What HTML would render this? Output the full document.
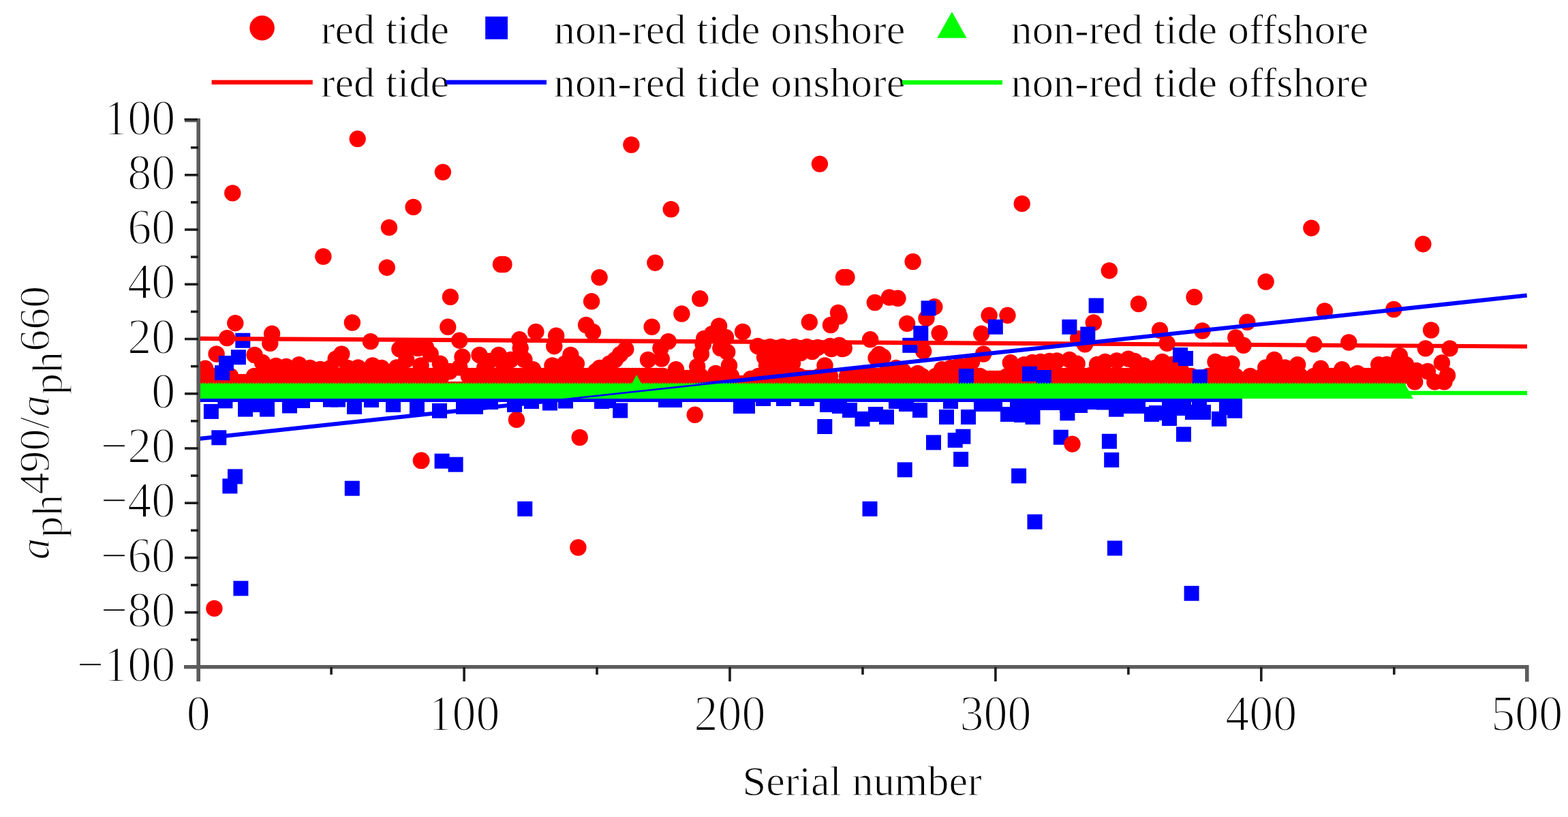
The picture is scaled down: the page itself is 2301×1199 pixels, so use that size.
<!DOCTYPE html><html><head><meta charset="utf-8"><style>html,body{margin:0;padding:0;background:#fff;}svg{display:block}</style></head><body>
<svg width="2301" height="1199" viewBox="0 0 2301 1199">
<rect width="100%" height="100%" fill="#fff"/>
<defs><clipPath id="pc"><rect x="289" y="150" width="1960" height="830"/></clipPath></defs>
<g clip-path="url(#pc)">
<g fill="#ff0000">
<circle cx="298.0" cy="552.0" r="12.2"/>
<circle cx="303.0" cy="552.0" r="12.2"/>
<circle cx="308.0" cy="552.0" r="12.2"/>
<circle cx="313.0" cy="552.0" r="12.2"/>
<circle cx="318.0" cy="552.0" r="12.2"/>
<circle cx="323.0" cy="552.0" r="12.2"/>
<circle cx="328.0" cy="552.0" r="12.2"/>
<circle cx="333.0" cy="552.0" r="12.2"/>
<circle cx="338.0" cy="552.0" r="12.2"/>
<circle cx="343.0" cy="561.0" r="12.2"/>
<circle cx="348.0" cy="561.0" r="12.2"/>
<circle cx="353.0" cy="561.0" r="12.2"/>
<circle cx="358.0" cy="561.0" r="12.2"/>
<circle cx="363.0" cy="561.0" r="12.2"/>
<circle cx="368.0" cy="561.0" r="12.2"/>
<circle cx="373.0" cy="552.0" r="12.2"/>
<circle cx="378.0" cy="552.0" r="12.2"/>
<circle cx="383.0" cy="552.0" r="12.2"/>
<circle cx="388.0" cy="552.0" r="12.2"/>
<circle cx="393.0" cy="552.0" r="12.2"/>
<circle cx="398.0" cy="552.0" r="12.2"/>
<circle cx="403.0" cy="552.0" r="12.2"/>
<circle cx="408.0" cy="552.0" r="12.2"/>
<circle cx="413.0" cy="552.0" r="12.2"/>
<circle cx="418.0" cy="552.0" r="12.2"/>
<circle cx="423.0" cy="552.0" r="12.2"/>
<circle cx="428.0" cy="552.0" r="12.2"/>
<circle cx="433.0" cy="552.0" r="12.2"/>
<circle cx="438.0" cy="552.0" r="12.2"/>
<circle cx="443.0" cy="552.0" r="12.2"/>
<circle cx="448.0" cy="552.0" r="12.2"/>
<circle cx="453.0" cy="552.0" r="12.2"/>
<circle cx="458.0" cy="552.0" r="12.2"/>
<circle cx="463.0" cy="552.0" r="12.2"/>
<circle cx="468.0" cy="552.0" r="12.2"/>
<circle cx="473.0" cy="552.0" r="12.2"/>
<circle cx="478.0" cy="552.0" r="12.2"/>
<circle cx="483.0" cy="552.0" r="12.2"/>
<circle cx="488.0" cy="552.0" r="12.2"/>
<circle cx="493.0" cy="552.0" r="12.2"/>
<circle cx="498.0" cy="552.0" r="12.2"/>
<circle cx="503.0" cy="552.0" r="12.2"/>
<circle cx="508.0" cy="552.0" r="12.2"/>
<circle cx="513.0" cy="552.0" r="12.2"/>
<circle cx="518.0" cy="552.0" r="12.2"/>
<circle cx="523.0" cy="552.0" r="12.2"/>
<circle cx="528.0" cy="552.0" r="12.2"/>
<circle cx="533.0" cy="552.0" r="12.2"/>
<circle cx="538.0" cy="552.0" r="12.2"/>
<circle cx="543.0" cy="552.0" r="12.2"/>
<circle cx="548.0" cy="552.0" r="12.2"/>
<circle cx="553.0" cy="552.0" r="12.2"/>
<circle cx="558.0" cy="552.0" r="12.2"/>
<circle cx="563.0" cy="552.0" r="12.2"/>
<circle cx="568.0" cy="552.0" r="12.2"/>
<circle cx="573.0" cy="552.0" r="12.2"/>
<circle cx="578.0" cy="552.0" r="12.2"/>
<circle cx="583.0" cy="552.0" r="12.2"/>
<circle cx="588.0" cy="552.0" r="12.2"/>
<circle cx="593.0" cy="552.0" r="12.2"/>
<circle cx="598.0" cy="552.0" r="12.2"/>
<circle cx="603.0" cy="552.0" r="12.2"/>
<circle cx="608.0" cy="552.0" r="12.2"/>
<circle cx="613.0" cy="552.0" r="12.2"/>
<circle cx="618.0" cy="552.0" r="12.2"/>
<circle cx="623.0" cy="552.0" r="12.2"/>
<circle cx="628.0" cy="552.0" r="12.2"/>
<circle cx="633.0" cy="552.0" r="12.2"/>
<circle cx="638.0" cy="552.0" r="12.2"/>
<circle cx="643.0" cy="552.0" r="12.2"/>
<circle cx="648.0" cy="552.0" r="12.2"/>
<circle cx="653.0" cy="572.0" r="12.2"/>
<circle cx="658.0" cy="572.0" r="12.2"/>
<circle cx="663.0" cy="572.0" r="12.2"/>
<circle cx="668.0" cy="572.0" r="12.2"/>
<circle cx="673.0" cy="572.0" r="12.2"/>
<circle cx="678.0" cy="572.0" r="12.2"/>
<circle cx="683.0" cy="572.0" r="12.2"/>
<circle cx="688.0" cy="552.0" r="12.2"/>
<circle cx="693.0" cy="552.0" r="12.2"/>
<circle cx="698.0" cy="552.0" r="12.2"/>
<circle cx="703.0" cy="552.0" r="12.2"/>
<circle cx="708.0" cy="552.0" r="12.2"/>
<circle cx="713.0" cy="552.0" r="12.2"/>
<circle cx="718.0" cy="552.0" r="12.2"/>
<circle cx="723.0" cy="552.0" r="12.2"/>
<circle cx="728.0" cy="552.0" r="12.2"/>
<circle cx="733.0" cy="552.0" r="12.2"/>
<circle cx="738.0" cy="552.0" r="12.2"/>
<circle cx="743.0" cy="552.0" r="12.2"/>
<circle cx="748.0" cy="552.0" r="12.2"/>
<circle cx="753.0" cy="552.0" r="12.2"/>
<circle cx="758.0" cy="552.0" r="12.2"/>
<circle cx="763.0" cy="552.0" r="12.2"/>
<circle cx="768.0" cy="552.0" r="12.2"/>
<circle cx="773.0" cy="552.0" r="12.2"/>
<circle cx="778.0" cy="552.0" r="12.2"/>
<circle cx="783.0" cy="552.0" r="12.2"/>
<circle cx="788.0" cy="552.0" r="12.2"/>
<circle cx="793.0" cy="552.0" r="12.2"/>
<circle cx="798.0" cy="552.0" r="12.2"/>
<circle cx="803.0" cy="552.0" r="12.2"/>
<circle cx="808.0" cy="552.0" r="12.2"/>
<circle cx="813.0" cy="552.0" r="12.2"/>
<circle cx="818.0" cy="552.0" r="12.2"/>
<circle cx="823.0" cy="552.0" r="12.2"/>
<circle cx="828.0" cy="552.0" r="12.2"/>
<circle cx="833.0" cy="552.0" r="12.2"/>
<circle cx="838.0" cy="552.0" r="12.2"/>
<circle cx="843.0" cy="552.0" r="12.2"/>
<circle cx="848.0" cy="552.0" r="12.2"/>
<circle cx="853.0" cy="552.0" r="12.2"/>
<circle cx="858.0" cy="552.0" r="12.2"/>
<circle cx="863.0" cy="552.0" r="12.2"/>
<circle cx="868.0" cy="552.0" r="12.2"/>
<circle cx="873.0" cy="552.0" r="12.2"/>
<circle cx="878.0" cy="552.0" r="12.2"/>
<circle cx="883.0" cy="552.0" r="12.2"/>
<circle cx="888.0" cy="552.0" r="12.2"/>
<circle cx="893.0" cy="552.0" r="12.2"/>
<circle cx="898.0" cy="552.0" r="12.2"/>
<circle cx="903.0" cy="552.0" r="12.2"/>
<circle cx="908.0" cy="552.0" r="12.2"/>
<circle cx="913.0" cy="552.0" r="12.2"/>
<circle cx="918.0" cy="552.0" r="12.2"/>
<circle cx="923.0" cy="552.0" r="12.2"/>
<circle cx="928.0" cy="552.0" r="12.2"/>
<circle cx="933.0" cy="552.0" r="12.2"/>
<circle cx="938.0" cy="552.0" r="12.2"/>
<circle cx="943.0" cy="552.0" r="12.2"/>
<circle cx="948.0" cy="552.0" r="12.2"/>
<circle cx="953.0" cy="552.0" r="12.2"/>
<circle cx="958.0" cy="552.0" r="12.2"/>
<circle cx="963.0" cy="552.0" r="12.2"/>
<circle cx="968.0" cy="552.0" r="12.2"/>
<circle cx="973.0" cy="552.0" r="12.2"/>
<circle cx="978.0" cy="555.0" r="12.2"/>
<circle cx="983.0" cy="555.0" r="12.2"/>
<circle cx="988.0" cy="555.0" r="12.2"/>
<circle cx="993.0" cy="555.0" r="12.2"/>
<circle cx="998.0" cy="555.0" r="12.2"/>
<circle cx="1003.0" cy="555.0" r="12.2"/>
<circle cx="1008.0" cy="555.0" r="12.2"/>
<circle cx="1013.0" cy="555.0" r="12.2"/>
<circle cx="1018.0" cy="555.0" r="12.2"/>
<circle cx="1023.0" cy="555.0" r="12.2"/>
<circle cx="1028.0" cy="552.0" r="12.2"/>
<circle cx="1033.0" cy="566.0" r="12.2"/>
<circle cx="1038.0" cy="566.0" r="12.2"/>
<circle cx="1043.0" cy="566.0" r="12.2"/>
<circle cx="1048.0" cy="566.0" r="12.2"/>
<circle cx="1053.0" cy="566.0" r="12.2"/>
<circle cx="1058.0" cy="566.0" r="12.2"/>
<circle cx="1063.0" cy="552.0" r="12.2"/>
<circle cx="1068.0" cy="552.0" r="12.2"/>
<circle cx="1073.0" cy="552.0" r="12.2"/>
<circle cx="1078.0" cy="563.0" r="12.2"/>
<circle cx="1083.0" cy="563.0" r="12.2"/>
<circle cx="1088.0" cy="563.0" r="12.2"/>
<circle cx="1093.0" cy="563.0" r="12.2"/>
<circle cx="1098.0" cy="563.0" r="12.2"/>
<circle cx="1103.0" cy="563.0" r="12.2"/>
<circle cx="1108.0" cy="563.0" r="12.2"/>
<circle cx="1113.0" cy="552.0" r="12.2"/>
<circle cx="1118.0" cy="552.0" r="12.2"/>
<circle cx="1123.0" cy="552.0" r="12.2"/>
<circle cx="1128.0" cy="552.0" r="12.2"/>
<circle cx="1133.0" cy="552.0" r="12.2"/>
<circle cx="1138.0" cy="552.0" r="12.2"/>
<circle cx="1143.0" cy="552.0" r="12.2"/>
<circle cx="1148.0" cy="552.0" r="12.2"/>
<circle cx="1153.0" cy="552.0" r="12.2"/>
<circle cx="1158.0" cy="552.0" r="12.2"/>
<circle cx="1163.0" cy="552.0" r="12.2"/>
<circle cx="1168.0" cy="552.0" r="12.2"/>
<circle cx="1173.0" cy="552.0" r="12.2"/>
<circle cx="1178.0" cy="555.0" r="12.2"/>
<circle cx="1183.0" cy="555.0" r="12.2"/>
<circle cx="1188.0" cy="555.0" r="12.2"/>
<circle cx="1193.0" cy="555.0" r="12.2"/>
<circle cx="1198.0" cy="555.0" r="12.2"/>
<circle cx="1203.0" cy="552.0" r="12.2"/>
<circle cx="1208.0" cy="552.0" r="12.2"/>
<circle cx="1213.0" cy="552.0" r="12.2"/>
<circle cx="1218.0" cy="552.0" r="12.2"/>
<circle cx="1223.0" cy="568.0" r="12.2"/>
<circle cx="1228.0" cy="568.0" r="12.2"/>
<circle cx="1233.0" cy="568.0" r="12.2"/>
<circle cx="1238.0" cy="568.0" r="12.2"/>
<circle cx="1243.0" cy="552.0" r="12.2"/>
<circle cx="1248.0" cy="552.0" r="12.2"/>
<circle cx="1253.0" cy="552.0" r="12.2"/>
<circle cx="1258.0" cy="552.0" r="12.2"/>
<circle cx="1263.0" cy="552.0" r="12.2"/>
<circle cx="1268.0" cy="552.0" r="12.2"/>
<circle cx="1273.0" cy="552.0" r="12.2"/>
<circle cx="1278.0" cy="552.0" r="12.2"/>
<circle cx="1283.0" cy="552.0" r="12.2"/>
<circle cx="1288.0" cy="552.0" r="12.2"/>
<circle cx="1293.0" cy="552.0" r="12.2"/>
<circle cx="1298.0" cy="552.0" r="12.2"/>
<circle cx="1303.0" cy="552.0" r="12.2"/>
<circle cx="1308.0" cy="552.0" r="12.2"/>
<circle cx="1313.0" cy="552.0" r="12.2"/>
<circle cx="1318.0" cy="552.0" r="12.2"/>
<circle cx="1323.0" cy="552.0" r="12.2"/>
<circle cx="1328.0" cy="552.0" r="12.2"/>
<circle cx="1333.0" cy="552.0" r="12.2"/>
<circle cx="1338.0" cy="552.0" r="12.2"/>
<circle cx="1343.0" cy="552.0" r="12.2"/>
<circle cx="1348.0" cy="552.0" r="12.2"/>
<circle cx="1353.0" cy="552.0" r="12.2"/>
<circle cx="1358.0" cy="561.0" r="12.2"/>
<circle cx="1363.0" cy="561.0" r="12.2"/>
<circle cx="1368.0" cy="561.0" r="12.2"/>
<circle cx="1373.0" cy="552.0" r="12.2"/>
<circle cx="1378.0" cy="552.0" r="12.2"/>
<circle cx="1383.0" cy="552.0" r="12.2"/>
<circle cx="1388.0" cy="552.0" r="12.2"/>
<circle cx="1393.0" cy="552.0" r="12.2"/>
<circle cx="1398.0" cy="552.0" r="12.2"/>
<circle cx="1403.0" cy="552.0" r="12.2"/>
<circle cx="1408.0" cy="552.0" r="12.2"/>
<circle cx="1413.0" cy="552.0" r="12.2"/>
<circle cx="1418.0" cy="552.0" r="12.2"/>
<circle cx="1423.0" cy="552.0" r="12.2"/>
<circle cx="1428.0" cy="552.0" r="12.2"/>
<circle cx="1433.0" cy="552.0" r="12.2"/>
<circle cx="1438.0" cy="552.0" r="12.2"/>
<circle cx="1443.0" cy="556.0" r="12.2"/>
<circle cx="1448.0" cy="556.0" r="12.2"/>
<circle cx="1453.0" cy="556.0" r="12.2"/>
<circle cx="1458.0" cy="556.0" r="12.2"/>
<circle cx="1463.0" cy="556.0" r="12.2"/>
<circle cx="1468.0" cy="556.0" r="12.2"/>
<circle cx="1473.0" cy="556.0" r="12.2"/>
<circle cx="1478.0" cy="552.0" r="12.2"/>
<circle cx="1483.0" cy="552.0" r="12.2"/>
<circle cx="1488.0" cy="552.0" r="12.2"/>
<circle cx="1493.0" cy="552.0" r="12.2"/>
<circle cx="1498.0" cy="552.0" r="12.2"/>
<circle cx="1503.0" cy="552.0" r="12.2"/>
<circle cx="1508.0" cy="552.0" r="12.2"/>
<circle cx="1513.0" cy="552.0" r="12.2"/>
<circle cx="1518.0" cy="552.0" r="12.2"/>
<circle cx="1523.0" cy="552.0" r="12.2"/>
<circle cx="1528.0" cy="552.0" r="12.2"/>
<circle cx="1533.0" cy="552.0" r="12.2"/>
<circle cx="1538.0" cy="552.0" r="12.2"/>
<circle cx="1543.0" cy="552.0" r="12.2"/>
<circle cx="1548.0" cy="552.0" r="12.2"/>
<circle cx="1553.0" cy="552.0" r="12.2"/>
<circle cx="1558.0" cy="552.0" r="12.2"/>
<circle cx="1563.0" cy="552.0" r="12.2"/>
<circle cx="1568.0" cy="552.0" r="12.2"/>
<circle cx="1573.0" cy="552.0" r="12.2"/>
<circle cx="1578.0" cy="552.0" r="12.2"/>
<circle cx="1583.0" cy="552.0" r="12.2"/>
<circle cx="1588.0" cy="552.0" r="12.2"/>
<circle cx="1593.0" cy="552.0" r="12.2"/>
<circle cx="1598.0" cy="552.0" r="12.2"/>
<circle cx="1603.0" cy="552.0" r="12.2"/>
<circle cx="1608.0" cy="552.0" r="12.2"/>
<circle cx="1613.0" cy="552.0" r="12.2"/>
<circle cx="1618.0" cy="552.0" r="12.2"/>
<circle cx="1623.0" cy="552.0" r="12.2"/>
<circle cx="1628.0" cy="552.0" r="12.2"/>
<circle cx="1633.0" cy="552.0" r="12.2"/>
<circle cx="1638.0" cy="552.0" r="12.2"/>
<circle cx="1643.0" cy="552.0" r="12.2"/>
<circle cx="1648.0" cy="552.0" r="12.2"/>
<circle cx="1653.0" cy="552.0" r="12.2"/>
<circle cx="1658.0" cy="552.0" r="12.2"/>
<circle cx="1663.0" cy="552.0" r="12.2"/>
<circle cx="1668.0" cy="552.0" r="12.2"/>
<circle cx="1673.0" cy="552.0" r="12.2"/>
<circle cx="1678.0" cy="552.0" r="12.2"/>
<circle cx="1683.0" cy="552.0" r="12.2"/>
<circle cx="1688.0" cy="552.0" r="12.2"/>
<circle cx="1693.0" cy="552.0" r="12.2"/>
<circle cx="1698.0" cy="552.0" r="12.2"/>
<circle cx="1703.0" cy="552.0" r="12.2"/>
<circle cx="1708.0" cy="552.0" r="12.2"/>
<circle cx="1713.0" cy="552.0" r="12.2"/>
<circle cx="1718.0" cy="552.0" r="12.2"/>
<circle cx="1723.0" cy="552.0" r="12.2"/>
<circle cx="1728.0" cy="552.0" r="12.2"/>
<circle cx="1733.0" cy="552.0" r="12.2"/>
<circle cx="1738.0" cy="552.0" r="12.2"/>
<circle cx="1743.0" cy="552.0" r="12.2"/>
<circle cx="1748.0" cy="552.0" r="12.2"/>
<circle cx="1753.0" cy="565.0" r="12.2"/>
<circle cx="1758.0" cy="565.0" r="12.2"/>
<circle cx="1763.0" cy="565.0" r="12.2"/>
<circle cx="1768.0" cy="565.0" r="12.2"/>
<circle cx="1773.0" cy="552.0" r="12.2"/>
<circle cx="1778.0" cy="552.0" r="12.2"/>
<circle cx="1783.0" cy="552.0" r="12.2"/>
<circle cx="1788.0" cy="552.0" r="12.2"/>
<circle cx="1793.0" cy="552.0" r="12.2"/>
<circle cx="1798.0" cy="552.0" r="12.2"/>
<circle cx="1803.0" cy="552.0" r="12.2"/>
<circle cx="1808.0" cy="552.0" r="12.2"/>
<circle cx="1813.0" cy="552.0" r="12.2"/>
<circle cx="1818.0" cy="558.0" r="12.2"/>
<circle cx="1823.0" cy="558.0" r="12.2"/>
<circle cx="1828.0" cy="558.0" r="12.2"/>
<circle cx="1833.0" cy="558.0" r="12.2"/>
<circle cx="1838.0" cy="558.0" r="12.2"/>
<circle cx="1843.0" cy="558.0" r="12.2"/>
<circle cx="1848.0" cy="558.0" r="12.2"/>
<circle cx="1853.0" cy="552.0" r="12.2"/>
<circle cx="1858.0" cy="552.0" r="12.2"/>
<circle cx="1863.0" cy="552.0" r="12.2"/>
<circle cx="1868.0" cy="552.0" r="12.2"/>
<circle cx="1873.0" cy="552.0" r="12.2"/>
<circle cx="1878.0" cy="552.0" r="12.2"/>
<circle cx="1883.0" cy="552.0" r="12.2"/>
<circle cx="1888.0" cy="552.0" r="12.2"/>
<circle cx="1893.0" cy="552.0" r="12.2"/>
<circle cx="1898.0" cy="552.0" r="12.2"/>
<circle cx="1903.0" cy="552.0" r="12.2"/>
<circle cx="1908.0" cy="552.0" r="12.2"/>
<circle cx="1913.0" cy="561.0" r="12.2"/>
<circle cx="1918.0" cy="561.0" r="12.2"/>
<circle cx="1923.0" cy="561.0" r="12.2"/>
<circle cx="1928.0" cy="552.0" r="12.2"/>
<circle cx="1933.0" cy="552.0" r="12.2"/>
<circle cx="1938.0" cy="552.0" r="12.2"/>
<circle cx="1943.0" cy="552.0" r="12.2"/>
<circle cx="1948.0" cy="552.0" r="12.2"/>
<circle cx="1953.0" cy="552.0" r="12.2"/>
<circle cx="1958.0" cy="552.0" r="12.2"/>
<circle cx="1963.0" cy="552.0" r="12.2"/>
<circle cx="1968.0" cy="552.0" r="12.2"/>
<circle cx="1973.0" cy="552.0" r="12.2"/>
<circle cx="1978.0" cy="552.0" r="12.2"/>
<circle cx="1983.0" cy="552.0" r="12.2"/>
<circle cx="1988.0" cy="552.0" r="12.2"/>
<circle cx="1993.0" cy="552.0" r="12.2"/>
<circle cx="1998.0" cy="552.0" r="12.2"/>
<circle cx="2003.0" cy="552.0" r="12.2"/>
<circle cx="2008.0" cy="552.0" r="12.2"/>
<circle cx="2013.0" cy="552.0" r="12.2"/>
<circle cx="2018.0" cy="552.0" r="12.2"/>
<circle cx="2023.0" cy="552.0" r="12.2"/>
<circle cx="2028.0" cy="552.0" r="12.2"/>
<circle cx="2033.0" cy="552.0" r="12.2"/>
<circle cx="2038.0" cy="552.0" r="12.2"/>
<circle cx="2043.0" cy="552.0" r="12.2"/>
<circle cx="2048.0" cy="552.0" r="12.2"/>
<circle cx="2053.0" cy="552.0" r="12.2"/>
<circle cx="2058.0" cy="552.0" r="12.2"/>
<circle cx="524.7" cy="203.8" r="12.2"/>
<circle cx="649.9" cy="252.6" r="12.2"/>
<circle cx="341.3" cy="283.4" r="12.2"/>
<circle cx="606.6" cy="303.9" r="12.2"/>
<circle cx="571.0" cy="333.9" r="12.2"/>
<circle cx="474.4" cy="376.5" r="12.2"/>
<circle cx="567.8" cy="392.7" r="12.2"/>
<circle cx="735.0" cy="388.0" r="12.2"/>
<circle cx="739.5" cy="388.0" r="12.2"/>
<circle cx="660.9" cy="435.8" r="12.2"/>
<circle cx="926.4" cy="212.5" r="12.2"/>
<circle cx="1202.9" cy="240.6" r="12.2"/>
<circle cx="984.7" cy="307.1" r="12.2"/>
<circle cx="961.4" cy="385.7" r="12.2"/>
<circle cx="879.6" cy="407.2" r="12.2"/>
<circle cx="1238.0" cy="407.0" r="12.2"/>
<circle cx="1242.5" cy="407.0" r="12.2"/>
<circle cx="868.1" cy="442.3" r="12.2"/>
<circle cx="1027.2" cy="438.3" r="12.2"/>
<circle cx="1000.4" cy="460.5" r="12.2"/>
<circle cx="1230.0" cy="459.0" r="12.2"/>
<circle cx="1499.7" cy="298.9" r="12.2"/>
<circle cx="1339.6" cy="384.0" r="12.2"/>
<circle cx="1627.8" cy="397.2" r="12.2"/>
<circle cx="1752.5" cy="436.0" r="12.2"/>
<circle cx="1670.9" cy="446.0" r="12.2"/>
<circle cx="1305.0" cy="436.5" r="12.2"/>
<circle cx="1317.5" cy="437.8" r="12.2"/>
<circle cx="1283.8" cy="444.0" r="12.2"/>
<circle cx="1371.3" cy="450.3" r="12.2"/>
<circle cx="1924.4" cy="334.7" r="12.2"/>
<circle cx="2088.3" cy="358.2" r="12.2"/>
<circle cx="1857.6" cy="413.5" r="12.2"/>
<circle cx="1943.9" cy="456.5" r="12.2"/>
<circle cx="2045.3" cy="454.0" r="12.2"/>
<circle cx="345.3" cy="474.2" r="12.2"/>
<circle cx="333.2" cy="496.1" r="12.2"/>
<circle cx="399.1" cy="489.8" r="12.2"/>
<circle cx="396.3" cy="503.9" r="12.2"/>
<circle cx="317.6" cy="519.5" r="12.2"/>
<circle cx="301.3" cy="540.8" r="12.2"/>
<circle cx="292.8" cy="550.7" r="12.2"/>
<circle cx="373.6" cy="521.0" r="12.2"/>
<circle cx="385.0" cy="532.0" r="12.2"/>
<circle cx="405.0" cy="537.0" r="12.2"/>
<circle cx="420.0" cy="538.0" r="12.2"/>
<circle cx="438.8" cy="535.1" r="12.2"/>
<circle cx="455.0" cy="540.0" r="12.2"/>
<circle cx="470.0" cy="542.0" r="12.2"/>
<circle cx="485.0" cy="540.0" r="12.2"/>
<circle cx="492.7" cy="526.6" r="12.2"/>
<circle cx="516.9" cy="473.5" r="12.2"/>
<circle cx="657.3" cy="479.8" r="12.2"/>
<circle cx="543.9" cy="501.1" r="12.2"/>
<circle cx="674.3" cy="499.7" r="12.2"/>
<circle cx="501.3" cy="519.5" r="12.2"/>
<circle cx="586.4" cy="512.4" r="12.2"/>
<circle cx="613.3" cy="511.0" r="12.2"/>
<circle cx="596.3" cy="528.0" r="12.2"/>
<circle cx="631.7" cy="519.5" r="12.2"/>
<circle cx="645.9" cy="533.7" r="12.2"/>
<circle cx="617.6" cy="536.5" r="12.2"/>
<circle cx="582.1" cy="539.4" r="12.2"/>
<circle cx="546.7" cy="536.5" r="12.2"/>
<circle cx="525.4" cy="539.4" r="12.2"/>
<circle cx="678.5" cy="523.8" r="12.2"/>
<circle cx="674.3" cy="539.4" r="12.2"/>
<circle cx="660.0" cy="545.0" r="12.2"/>
<circle cx="600.0" cy="510.0" r="12.2"/>
<circle cx="625.0" cy="510.0" r="12.2"/>
<circle cx="560.0" cy="540.0" r="12.2"/>
<circle cx="510.0" cy="540.0" r="12.2"/>
<circle cx="860.1" cy="477.0" r="12.2"/>
<circle cx="870.0" cy="487.0" r="12.2"/>
<circle cx="786.4" cy="486.9" r="12.2"/>
<circle cx="816.2" cy="492.6" r="12.2"/>
<circle cx="813.3" cy="508.2" r="12.2"/>
<circle cx="762.3" cy="498.3" r="12.2"/>
<circle cx="763.7" cy="511.0" r="12.2"/>
<circle cx="703.5" cy="521.0" r="12.2"/>
<circle cx="731.8" cy="521.0" r="12.2"/>
<circle cx="837.4" cy="521.0" r="12.2"/>
<circle cx="749.5" cy="528.0" r="12.2"/>
<circle cx="769.4" cy="528.0" r="12.2"/>
<circle cx="810.5" cy="536.5" r="12.2"/>
<circle cx="828.9" cy="533.7" r="12.2"/>
<circle cx="845.9" cy="533.7" r="12.2"/>
<circle cx="874.3" cy="545.0" r="12.2"/>
<circle cx="711.3" cy="539.4" r="12.2"/>
<circle cx="739.6" cy="539.4" r="12.2"/>
<circle cx="782.1" cy="542.2" r="12.2"/>
<circle cx="758.0" cy="615.9" r="12.2"/>
<circle cx="718.0" cy="530.0" r="12.2"/>
<circle cx="956.6" cy="479.8" r="12.2"/>
<circle cx="1055.1" cy="478.4" r="12.2"/>
<circle cx="980.7" cy="501.1" r="12.2"/>
<circle cx="1033.2" cy="496.9" r="12.2"/>
<circle cx="1031.7" cy="505.4" r="12.2"/>
<circle cx="1057.3" cy="511.0" r="12.2"/>
<circle cx="1067.2" cy="516.7" r="12.2"/>
<circle cx="1028.9" cy="519.5" r="12.2"/>
<circle cx="918.3" cy="512.4" r="12.2"/>
<circle cx="910.0" cy="520.0" r="12.2"/>
<circle cx="902.8" cy="528.0" r="12.2"/>
<circle cx="894.3" cy="533.7" r="12.2"/>
<circle cx="969.4" cy="511.0" r="12.2"/>
<circle cx="951.0" cy="528.0" r="12.2"/>
<circle cx="970.8" cy="526.6" r="12.2"/>
<circle cx="1070.0" cy="536.5" r="12.2"/>
<circle cx="1023.2" cy="538.0" r="12.2"/>
<circle cx="992.0" cy="542.2" r="12.2"/>
<circle cx="1050.2" cy="547.9" r="12.2"/>
<circle cx="1019.7" cy="608.8" r="12.2"/>
<circle cx="880.0" cy="540.0" r="12.2"/>
<circle cx="1045.0" cy="490.0" r="12.2"/>
<circle cx="1065.0" cy="495.0" r="12.2"/>
<circle cx="1187.8" cy="472.8" r="12.2"/>
<circle cx="1219.0" cy="477.0" r="12.2"/>
<circle cx="1231.7" cy="464.3" r="12.2"/>
<circle cx="1277.1" cy="498.3" r="12.2"/>
<circle cx="1090.0" cy="487.0" r="12.2"/>
<circle cx="1112.0" cy="508.0" r="12.2"/>
<circle cx="1130.0" cy="509.0" r="12.2"/>
<circle cx="1148.0" cy="509.0" r="12.2"/>
<circle cx="1166.0" cy="509.0" r="12.2"/>
<circle cx="1184.0" cy="509.0" r="12.2"/>
<circle cx="1200.0" cy="510.0" r="12.2"/>
<circle cx="1218.0" cy="508.0" r="12.2"/>
<circle cx="1231.7" cy="506.8" r="12.2"/>
<circle cx="1238.8" cy="511.0" r="12.2"/>
<circle cx="1122.0" cy="524.0" r="12.2"/>
<circle cx="1140.0" cy="522.0" r="12.2"/>
<circle cx="1158.0" cy="522.0" r="12.2"/>
<circle cx="1175.0" cy="518.0" r="12.2"/>
<circle cx="1192.0" cy="516.0" r="12.2"/>
<circle cx="1220.0" cy="512.0" r="12.2"/>
<circle cx="1236.0" cy="512.0" r="12.2"/>
<circle cx="1125.0" cy="536.0" r="12.2"/>
<circle cx="1145.0" cy="538.0" r="12.2"/>
<circle cx="1163.0" cy="533.0" r="12.2"/>
<circle cx="1210.5" cy="536.5" r="12.2"/>
<circle cx="1101.7" cy="556.0" r="12.2"/>
<circle cx="1285.6" cy="525.2" r="12.2"/>
<circle cx="1267.2" cy="547.9" r="12.2"/>
<circle cx="1246.0" cy="550.7" r="12.2"/>
<circle cx="1290.0" cy="520.0" r="12.2"/>
<circle cx="1331.1" cy="474.9" r="12.2"/>
<circle cx="1359.5" cy="467.1" r="12.2"/>
<circle cx="1378.6" cy="489.1" r="12.2"/>
<circle cx="1440.2" cy="489.8" r="12.2"/>
<circle cx="1451.6" cy="462.8" r="12.2"/>
<circle cx="1478.5" cy="462.8" r="12.2"/>
<circle cx="1355.2" cy="515.3" r="12.2"/>
<circle cx="1295.7" cy="523.8" r="12.2"/>
<circle cx="1443.1" cy="519.5" r="12.2"/>
<circle cx="1482.8" cy="532.3" r="12.2"/>
<circle cx="1301.3" cy="545.0" r="12.2"/>
<circle cx="1325.4" cy="545.0" r="12.2"/>
<circle cx="1346.7" cy="548.0" r="12.2"/>
<circle cx="1382.1" cy="542.2" r="12.2"/>
<circle cx="1407.6" cy="536.5" r="12.2"/>
<circle cx="1426.1" cy="530.9" r="12.2"/>
<circle cx="1445.9" cy="556.0" r="12.2"/>
<circle cx="1467.2" cy="556.0" r="12.2"/>
<circle cx="1315.0" cy="540.0" r="12.2"/>
<circle cx="1395.0" cy="540.0" r="12.2"/>
<circle cx="1604.8" cy="473.5" r="12.2"/>
<circle cx="1592.0" cy="505.4" r="12.2"/>
<circle cx="1582.1" cy="496.9" r="12.2"/>
<circle cx="1502.8" cy="535.1" r="12.2"/>
<circle cx="1526.9" cy="530.9" r="12.2"/>
<circle cx="1551.0" cy="529.5" r="12.2"/>
<circle cx="1569.4" cy="528.0" r="12.2"/>
<circle cx="1580.7" cy="533.7" r="12.2"/>
<circle cx="1621.8" cy="530.9" r="12.2"/>
<circle cx="1638.8" cy="529.5" r="12.2"/>
<circle cx="1655.8" cy="526.6" r="12.2"/>
<circle cx="1678.5" cy="536.5" r="12.2"/>
<circle cx="1600.6" cy="550.7" r="12.2"/>
<circle cx="1515.0" cy="532.0" r="12.2"/>
<circle cx="1540.0" cy="530.0" r="12.2"/>
<circle cx="1610.0" cy="535.0" r="12.2"/>
<circle cx="1665.0" cy="530.0" r="12.2"/>
<circle cx="1702.0" cy="484.8" r="12.2"/>
<circle cx="1712.7" cy="503.9" r="12.2"/>
<circle cx="1764.4" cy="485.5" r="12.2"/>
<circle cx="1830.3" cy="472.8" r="12.2"/>
<circle cx="1813.3" cy="495.4" r="12.2"/>
<circle cx="1824.7" cy="506.8" r="12.2"/>
<circle cx="1705.6" cy="530.9" r="12.2"/>
<circle cx="1695.0" cy="540.0" r="12.2"/>
<circle cx="1732.5" cy="542.2" r="12.2"/>
<circle cx="1720.0" cy="535.0" r="12.2"/>
<circle cx="1783.5" cy="530.9" r="12.2"/>
<circle cx="1807.6" cy="533.7" r="12.2"/>
<circle cx="1795.0" cy="535.0" r="12.2"/>
<circle cx="1834.6" cy="552.0" r="12.2"/>
<circle cx="1870.0" cy="528.0" r="12.2"/>
<circle cx="1857.3" cy="539.4" r="12.2"/>
<circle cx="1885.6" cy="539.4" r="12.2"/>
<circle cx="1928.3" cy="505.4" r="12.2"/>
<circle cx="1979.3" cy="502.5" r="12.2"/>
<circle cx="1904.2" cy="535.1" r="12.2"/>
<circle cx="1938.2" cy="540.8" r="12.2"/>
<circle cx="1969.4" cy="542.2" r="12.2"/>
<circle cx="1992.0" cy="548.0" r="12.2"/>
<circle cx="2023.2" cy="535.1" r="12.2"/>
<circle cx="2053.0" cy="525.2" r="12.2"/>
<circle cx="2053.0" cy="542.2" r="12.2"/>
<circle cx="2035.0" cy="535.0" r="12.2"/>
<circle cx="2100.1" cy="484.5" r="12.2"/>
<circle cx="2091.9" cy="511.4" r="12.2"/>
<circle cx="2127.5" cy="511.4" r="12.2"/>
<circle cx="2054.0" cy="521.9" r="12.2"/>
<circle cx="2115.9" cy="532.4" r="12.2"/>
<circle cx="2078.5" cy="544.0" r="12.2"/>
<circle cx="2124.0" cy="551.0" r="12.2"/>
<circle cx="2076.2" cy="560.4" r="12.2"/>
<circle cx="2105.4" cy="560.4" r="12.2"/>
<circle cx="2119.4" cy="560.4" r="12.2"/>
<circle cx="2047.0" cy="541.7" r="12.2"/>
<circle cx="2095.0" cy="545.0" r="12.2"/>
<circle cx="2063.0" cy="535.0" r="12.2"/>
<circle cx="314.4" cy="892.9" r="12.2"/>
<circle cx="617.9" cy="676.0" r="12.2"/>
<circle cx="848.4" cy="803.5" r="12.2"/>
<circle cx="850.7" cy="642.0" r="12.2"/>
<circle cx="618.4" cy="675.8" r="12.2"/>
</g>
<g fill="#0000ff">
<rect x="289.0" y="568.0" width="22.0" height="22.0"/>
<rect x="295.0" y="568.0" width="22.0" height="22.0"/>
<rect x="301.0" y="568.0" width="22.0" height="22.0"/>
<rect x="307.0" y="568.0" width="22.0" height="22.0"/>
<rect x="313.0" y="568.0" width="22.0" height="22.0"/>
<rect x="319.0" y="568.0" width="22.0" height="22.0"/>
<rect x="325.0" y="568.0" width="22.0" height="22.0"/>
<rect x="331.0" y="568.0" width="22.0" height="22.0"/>
<rect x="337.0" y="568.0" width="22.0" height="22.0"/>
<rect x="343.0" y="568.0" width="22.0" height="22.0"/>
<rect x="349.0" y="568.0" width="22.0" height="22.0"/>
<rect x="355.0" y="568.0" width="22.0" height="22.0"/>
<rect x="361.0" y="568.0" width="22.0" height="22.0"/>
<rect x="367.0" y="568.0" width="22.0" height="22.0"/>
<rect x="373.0" y="568.0" width="22.0" height="22.0"/>
<rect x="379.0" y="568.0" width="22.0" height="22.0"/>
<rect x="385.0" y="568.0" width="22.0" height="22.0"/>
<rect x="391.0" y="568.0" width="22.0" height="22.0"/>
<rect x="397.0" y="568.0" width="22.0" height="22.0"/>
<rect x="403.0" y="568.0" width="22.0" height="22.0"/>
<rect x="409.0" y="568.0" width="22.0" height="22.0"/>
<rect x="415.0" y="568.0" width="22.0" height="22.0"/>
<rect x="421.0" y="568.0" width="22.0" height="22.0"/>
<rect x="427.0" y="568.0" width="22.0" height="22.0"/>
<rect x="433.0" y="568.0" width="22.0" height="22.0"/>
<rect x="439.0" y="568.0" width="22.0" height="22.0"/>
<rect x="445.0" y="568.0" width="22.0" height="22.0"/>
<rect x="451.0" y="568.0" width="22.0" height="22.0"/>
<rect x="457.0" y="568.0" width="22.0" height="22.0"/>
<rect x="463.0" y="568.0" width="22.0" height="22.0"/>
<rect x="469.0" y="568.0" width="22.0" height="22.0"/>
<rect x="475.0" y="568.0" width="22.0" height="22.0"/>
<rect x="481.0" y="568.0" width="22.0" height="22.0"/>
<rect x="487.0" y="568.0" width="22.0" height="22.0"/>
<rect x="493.0" y="568.0" width="22.0" height="22.0"/>
<rect x="499.0" y="568.0" width="22.0" height="22.0"/>
<rect x="505.0" y="568.0" width="22.0" height="22.0"/>
<rect x="511.0" y="568.0" width="22.0" height="22.0"/>
<rect x="517.0" y="568.0" width="22.0" height="22.0"/>
<rect x="523.0" y="568.0" width="22.0" height="22.0"/>
<rect x="529.0" y="568.0" width="22.0" height="22.0"/>
<rect x="535.0" y="568.0" width="22.0" height="22.0"/>
<rect x="541.0" y="568.0" width="22.0" height="22.0"/>
<rect x="547.0" y="568.0" width="22.0" height="22.0"/>
<rect x="553.0" y="568.0" width="22.0" height="22.0"/>
<rect x="559.0" y="568.0" width="22.0" height="22.0"/>
<rect x="565.0" y="568.0" width="22.0" height="22.0"/>
<rect x="571.0" y="568.0" width="22.0" height="22.0"/>
<rect x="577.0" y="568.0" width="22.0" height="22.0"/>
<rect x="583.0" y="568.0" width="22.0" height="22.0"/>
<rect x="589.0" y="568.0" width="22.0" height="22.0"/>
<rect x="595.0" y="568.0" width="22.0" height="22.0"/>
<rect x="601.0" y="568.0" width="22.0" height="22.0"/>
<rect x="607.0" y="568.0" width="22.0" height="22.0"/>
<rect x="613.0" y="568.0" width="22.0" height="22.0"/>
<rect x="619.0" y="568.0" width="22.0" height="22.0"/>
<rect x="625.0" y="568.0" width="22.0" height="22.0"/>
<rect x="631.0" y="568.0" width="22.0" height="22.0"/>
<rect x="637.0" y="568.0" width="22.0" height="22.0"/>
<rect x="643.0" y="568.0" width="22.0" height="22.0"/>
<rect x="649.0" y="568.0" width="22.0" height="22.0"/>
<rect x="655.0" y="568.0" width="22.0" height="22.0"/>
<rect x="661.0" y="568.0" width="22.0" height="22.0"/>
<rect x="667.0" y="568.0" width="22.0" height="22.0"/>
<rect x="673.0" y="568.0" width="22.0" height="22.0"/>
<rect x="679.0" y="568.0" width="22.0" height="22.0"/>
<rect x="685.0" y="568.0" width="22.0" height="22.0"/>
<rect x="691.0" y="568.0" width="22.0" height="22.0"/>
<rect x="697.0" y="568.0" width="22.0" height="22.0"/>
<rect x="703.0" y="568.0" width="22.0" height="22.0"/>
<rect x="709.0" y="568.0" width="22.0" height="22.0"/>
<rect x="715.0" y="568.0" width="22.0" height="22.0"/>
<rect x="721.0" y="568.0" width="22.0" height="22.0"/>
<rect x="727.0" y="568.0" width="22.0" height="22.0"/>
<rect x="733.0" y="568.0" width="22.0" height="22.0"/>
<rect x="739.0" y="568.0" width="22.0" height="22.0"/>
<rect x="745.0" y="568.0" width="22.0" height="22.0"/>
<rect x="751.0" y="568.0" width="22.0" height="22.0"/>
<rect x="757.0" y="568.0" width="22.0" height="22.0"/>
<rect x="763.0" y="568.0" width="22.0" height="22.0"/>
<rect x="769.0" y="568.0" width="22.0" height="22.0"/>
<rect x="775.0" y="568.0" width="22.0" height="22.0"/>
<rect x="781.0" y="568.0" width="22.0" height="22.0"/>
<rect x="787.0" y="568.0" width="22.0" height="22.0"/>
<rect x="793.0" y="568.0" width="22.0" height="22.0"/>
<rect x="799.0" y="568.0" width="22.0" height="22.0"/>
<rect x="805.0" y="568.0" width="22.0" height="22.0"/>
<rect x="811.0" y="568.0" width="22.0" height="22.0"/>
<rect x="817.0" y="568.0" width="22.0" height="22.0"/>
<rect x="823.0" y="568.0" width="22.0" height="22.0"/>
<rect x="829.0" y="568.0" width="22.0" height="22.0"/>
<rect x="835.0" y="568.0" width="22.0" height="22.0"/>
<rect x="841.0" y="568.0" width="22.0" height="22.0"/>
<rect x="847.0" y="568.0" width="22.0" height="22.0"/>
<rect x="853.0" y="568.0" width="22.0" height="22.0"/>
<rect x="859.0" y="568.0" width="22.0" height="22.0"/>
<rect x="865.0" y="568.0" width="22.0" height="22.0"/>
<rect x="871.0" y="568.0" width="22.0" height="22.0"/>
<rect x="877.0" y="568.0" width="22.0" height="22.0"/>
<rect x="883.0" y="568.0" width="22.0" height="22.0"/>
<rect x="889.0" y="568.0" width="22.0" height="22.0"/>
<rect x="895.0" y="568.0" width="22.0" height="22.0"/>
<rect x="901.0" y="568.0" width="22.0" height="22.0"/>
<rect x="907.0" y="568.0" width="22.0" height="22.0"/>
<rect x="913.0" y="568.0" width="22.0" height="22.0"/>
<rect x="919.0" y="568.0" width="22.0" height="22.0"/>
<rect x="925.0" y="568.0" width="22.0" height="22.0"/>
<rect x="931.0" y="568.0" width="22.0" height="22.0"/>
<rect x="937.0" y="568.0" width="22.0" height="22.0"/>
<rect x="943.0" y="568.0" width="22.0" height="22.0"/>
<rect x="949.0" y="568.0" width="22.0" height="22.0"/>
<rect x="955.0" y="568.0" width="22.0" height="22.0"/>
<rect x="961.0" y="568.0" width="22.0" height="22.0"/>
<rect x="967.0" y="568.0" width="22.0" height="22.0"/>
<rect x="973.0" y="568.0" width="22.0" height="22.0"/>
<rect x="979.0" y="568.0" width="22.0" height="22.0"/>
<rect x="985.0" y="568.0" width="22.0" height="22.0"/>
<rect x="991.0" y="568.0" width="22.0" height="22.0"/>
<rect x="997.0" y="568.0" width="22.0" height="22.0"/>
<rect x="1003.0" y="568.0" width="22.0" height="22.0"/>
<rect x="1009.0" y="568.0" width="22.0" height="22.0"/>
<rect x="1015.0" y="568.0" width="22.0" height="22.0"/>
<rect x="1021.0" y="568.0" width="22.0" height="22.0"/>
<rect x="1027.0" y="568.0" width="22.0" height="22.0"/>
<rect x="1033.0" y="568.0" width="22.0" height="22.0"/>
<rect x="1039.0" y="568.0" width="22.0" height="22.0"/>
<rect x="1045.0" y="568.0" width="22.0" height="22.0"/>
<rect x="1051.0" y="568.0" width="22.0" height="22.0"/>
<rect x="1057.0" y="568.0" width="22.0" height="22.0"/>
<rect x="1063.0" y="568.0" width="22.0" height="22.0"/>
<rect x="1069.0" y="568.0" width="22.0" height="22.0"/>
<rect x="1075.0" y="568.0" width="22.0" height="22.0"/>
<rect x="1081.0" y="568.0" width="22.0" height="22.0"/>
<rect x="1087.0" y="568.0" width="22.0" height="22.0"/>
<rect x="1093.0" y="568.0" width="22.0" height="22.0"/>
<rect x="1099.0" y="568.0" width="22.0" height="22.0"/>
<rect x="1105.0" y="568.0" width="22.0" height="22.0"/>
<rect x="1111.0" y="568.0" width="22.0" height="22.0"/>
<rect x="1117.0" y="568.0" width="22.0" height="22.0"/>
<rect x="1123.0" y="568.0" width="22.0" height="22.0"/>
<rect x="1129.0" y="568.0" width="22.0" height="22.0"/>
<rect x="1135.0" y="568.0" width="22.0" height="22.0"/>
<rect x="1141.0" y="568.0" width="22.0" height="22.0"/>
<rect x="1147.0" y="568.0" width="22.0" height="22.0"/>
<rect x="1153.0" y="568.0" width="22.0" height="22.0"/>
<rect x="1159.0" y="568.0" width="22.0" height="22.0"/>
<rect x="1165.0" y="568.0" width="22.0" height="22.0"/>
<rect x="1171.0" y="568.0" width="22.0" height="22.0"/>
<rect x="1177.0" y="568.0" width="22.0" height="22.0"/>
<rect x="1183.0" y="568.0" width="22.0" height="22.0"/>
<rect x="1189.0" y="568.0" width="22.0" height="22.0"/>
<rect x="1195.0" y="568.0" width="22.0" height="22.0"/>
<rect x="1201.0" y="568.0" width="22.0" height="22.0"/>
<rect x="1207.0" y="568.0" width="22.0" height="22.0"/>
<rect x="1213.0" y="568.0" width="22.0" height="22.0"/>
<rect x="1219.0" y="568.0" width="22.0" height="22.0"/>
<rect x="1225.0" y="568.0" width="22.0" height="22.0"/>
<rect x="1231.0" y="568.0" width="22.0" height="22.0"/>
<rect x="1237.0" y="568.0" width="22.0" height="22.0"/>
<rect x="1243.0" y="568.0" width="22.0" height="22.0"/>
<rect x="1249.0" y="568.0" width="22.0" height="22.0"/>
<rect x="1255.0" y="568.0" width="22.0" height="22.0"/>
<rect x="1261.0" y="568.0" width="22.0" height="22.0"/>
<rect x="1267.0" y="568.0" width="22.0" height="22.0"/>
<rect x="1273.0" y="568.0" width="22.0" height="22.0"/>
<rect x="1279.0" y="568.0" width="22.0" height="22.0"/>
<rect x="1285.0" y="568.0" width="22.0" height="22.0"/>
<rect x="1291.0" y="568.0" width="22.0" height="22.0"/>
<rect x="1297.0" y="568.0" width="22.0" height="22.0"/>
<rect x="1303.0" y="568.0" width="22.0" height="22.0"/>
<rect x="1309.0" y="568.0" width="22.0" height="22.0"/>
<rect x="1315.0" y="568.0" width="22.0" height="22.0"/>
<rect x="1321.0" y="568.0" width="22.0" height="22.0"/>
<rect x="1327.0" y="568.0" width="22.0" height="22.0"/>
<rect x="1333.0" y="568.0" width="22.0" height="22.0"/>
<rect x="1339.0" y="568.0" width="22.0" height="22.0"/>
<rect x="1345.0" y="568.0" width="22.0" height="22.0"/>
<rect x="1351.0" y="568.0" width="22.0" height="22.0"/>
<rect x="1357.0" y="568.0" width="22.0" height="22.0"/>
<rect x="1363.0" y="568.0" width="22.0" height="22.0"/>
<rect x="1369.0" y="568.0" width="22.0" height="22.0"/>
<rect x="1375.0" y="568.0" width="22.0" height="22.0"/>
<rect x="1381.0" y="568.0" width="22.0" height="22.0"/>
<rect x="1387.0" y="568.0" width="22.0" height="22.0"/>
<rect x="1393.0" y="568.0" width="22.0" height="22.0"/>
<rect x="1399.0" y="568.0" width="22.0" height="22.0"/>
<rect x="1405.0" y="568.0" width="22.0" height="22.0"/>
<rect x="1411.0" y="568.0" width="22.0" height="22.0"/>
<rect x="1417.0" y="568.0" width="22.0" height="22.0"/>
<rect x="1423.0" y="568.0" width="22.0" height="22.0"/>
<rect x="1429.0" y="568.0" width="22.0" height="22.0"/>
<rect x="1435.0" y="568.0" width="22.0" height="22.0"/>
<rect x="1441.0" y="568.0" width="22.0" height="22.0"/>
<rect x="1447.0" y="568.0" width="22.0" height="22.0"/>
<rect x="1453.0" y="568.0" width="22.0" height="22.0"/>
<rect x="1459.0" y="568.0" width="22.0" height="22.0"/>
<rect x="1465.0" y="568.0" width="22.0" height="22.0"/>
<rect x="1471.0" y="568.0" width="22.0" height="22.0"/>
<rect x="1477.0" y="568.0" width="22.0" height="22.0"/>
<rect x="1483.0" y="568.0" width="22.0" height="22.0"/>
<rect x="1489.0" y="568.0" width="22.0" height="22.0"/>
<rect x="1495.0" y="568.0" width="22.0" height="22.0"/>
<rect x="1501.0" y="568.0" width="22.0" height="22.0"/>
<rect x="1507.0" y="568.0" width="22.0" height="22.0"/>
<rect x="1513.0" y="568.0" width="22.0" height="22.0"/>
<rect x="1519.0" y="568.0" width="22.0" height="22.0"/>
<rect x="1525.0" y="568.0" width="22.0" height="22.0"/>
<rect x="1531.0" y="568.0" width="22.0" height="22.0"/>
<rect x="1537.0" y="568.0" width="22.0" height="22.0"/>
<rect x="1543.0" y="568.0" width="22.0" height="22.0"/>
<rect x="1549.0" y="568.0" width="22.0" height="22.0"/>
<rect x="1555.0" y="568.0" width="22.0" height="22.0"/>
<rect x="1561.0" y="568.0" width="22.0" height="22.0"/>
<rect x="1567.0" y="568.0" width="22.0" height="22.0"/>
<rect x="1573.0" y="568.0" width="22.0" height="22.0"/>
<rect x="1579.0" y="568.0" width="22.0" height="22.0"/>
<rect x="1585.0" y="568.0" width="22.0" height="22.0"/>
<rect x="1591.0" y="568.0" width="22.0" height="22.0"/>
<rect x="1597.0" y="568.0" width="22.0" height="22.0"/>
<rect x="1603.0" y="568.0" width="22.0" height="22.0"/>
<rect x="1609.0" y="568.0" width="22.0" height="22.0"/>
<rect x="1615.0" y="568.0" width="22.0" height="22.0"/>
<rect x="1621.0" y="568.0" width="22.0" height="22.0"/>
<rect x="1627.0" y="568.0" width="22.0" height="22.0"/>
<rect x="1633.0" y="568.0" width="22.0" height="22.0"/>
<rect x="1639.0" y="568.0" width="22.0" height="22.0"/>
<rect x="1645.0" y="568.0" width="22.0" height="22.0"/>
<rect x="1651.0" y="568.0" width="22.0" height="22.0"/>
<rect x="1657.0" y="568.0" width="22.0" height="22.0"/>
<rect x="1663.0" y="568.0" width="22.0" height="22.0"/>
<rect x="1669.0" y="568.0" width="22.0" height="22.0"/>
<rect x="1675.0" y="568.0" width="22.0" height="22.0"/>
<rect x="1681.0" y="568.0" width="22.0" height="22.0"/>
<rect x="1687.0" y="568.0" width="22.0" height="22.0"/>
<rect x="1693.0" y="568.0" width="22.0" height="22.0"/>
<rect x="1699.0" y="568.0" width="22.0" height="22.0"/>
<rect x="1705.0" y="568.0" width="22.0" height="22.0"/>
<rect x="1711.0" y="568.0" width="22.0" height="22.0"/>
<rect x="1717.0" y="568.0" width="22.0" height="22.0"/>
<rect x="1723.0" y="568.0" width="22.0" height="22.0"/>
<rect x="1729.0" y="568.0" width="22.0" height="22.0"/>
<rect x="1735.0" y="568.0" width="22.0" height="22.0"/>
<rect x="1741.0" y="568.0" width="22.0" height="22.0"/>
<rect x="1747.0" y="568.0" width="22.0" height="22.0"/>
<rect x="1753.0" y="568.0" width="22.0" height="22.0"/>
<rect x="1759.0" y="568.0" width="22.0" height="22.0"/>
<rect x="1765.0" y="568.0" width="22.0" height="22.0"/>
<rect x="1771.0" y="568.0" width="22.0" height="22.0"/>
<rect x="1777.0" y="568.0" width="22.0" height="22.0"/>
<rect x="1783.0" y="568.0" width="22.0" height="22.0"/>
<rect x="1789.0" y="568.0" width="22.0" height="22.0"/>
<rect x="1795.0" y="568.0" width="22.0" height="22.0"/>
<rect x="1801.0" y="568.0" width="22.0" height="22.0"/>
<rect x="1351.6" y="441.3" width="22.0" height="22.0"/>
<rect x="1597.6" y="437.5" width="22.0" height="22.0"/>
<rect x="1340.3" y="478.0" width="22.0" height="22.0"/>
<rect x="1324.3" y="495.8" width="22.0" height="22.0"/>
<rect x="1449.8" y="468.8" width="22.0" height="22.0"/>
<rect x="1558.4" y="468.8" width="22.0" height="22.0"/>
<rect x="1585.3" y="479.5" width="22.0" height="22.0"/>
<rect x="1406.9" y="541.0" width="22.0" height="22.0"/>
<rect x="1499.9" y="537.7" width="22.0" height="22.0"/>
<rect x="1520.8" y="543.0" width="22.0" height="22.0"/>
<rect x="1721.0" y="510.0" width="22.0" height="22.0"/>
<rect x="1729.0" y="515.0" width="22.0" height="22.0"/>
<rect x="1749.9" y="542.2" width="22.0" height="22.0"/>
<rect x="345.3" y="488.7" width="22.0" height="22.0"/>
<rect x="338.9" y="513.2" width="22.0" height="22.0"/>
<rect x="321.0" y="522.0" width="22.0" height="22.0"/>
<rect x="315.1" y="536.1" width="22.0" height="22.0"/>
<rect x="298.9" y="592.9" width="22.0" height="22.0"/>
<rect x="319.4" y="577.3" width="22.0" height="22.0"/>
<rect x="349.1" y="589.6" width="22.0" height="22.0"/>
<rect x="365.0" y="583.0" width="22.0" height="22.0"/>
<rect x="381.0" y="589.6" width="22.0" height="22.0"/>
<rect x="414.0" y="584.5" width="22.0" height="22.0"/>
<rect x="433.0" y="577.0" width="22.0" height="22.0"/>
<rect x="474.0" y="575.5" width="22.0" height="22.0"/>
<rect x="509.0" y="586.0" width="22.0" height="22.0"/>
<rect x="485.0" y="575.5" width="22.0" height="22.0"/>
<rect x="534.0" y="576.0" width="22.0" height="22.0"/>
<rect x="566.0" y="583.0" width="22.0" height="22.0"/>
<rect x="601.0" y="586.7" width="22.0" height="22.0"/>
<rect x="634.0" y="591.8" width="22.0" height="22.0"/>
<rect x="669.0" y="586.0" width="22.0" height="22.0"/>
<rect x="687.0" y="586.0" width="22.0" height="22.0"/>
<rect x="709.0" y="579.0" width="22.0" height="22.0"/>
<rect x="744.0" y="583.0" width="22.0" height="22.0"/>
<rect x="769.0" y="578.0" width="22.0" height="22.0"/>
<rect x="796.0" y="580.5" width="22.0" height="22.0"/>
<rect x="819.0" y="577.5" width="22.0" height="22.0"/>
<rect x="872.0" y="578.0" width="22.0" height="22.0"/>
<rect x="882.0" y="577.0" width="22.0" height="22.0"/>
<rect x="899.2" y="591.5" width="22.0" height="22.0"/>
<rect x="966.0" y="576.0" width="22.0" height="22.0"/>
<rect x="979.0" y="576.0" width="22.0" height="22.0"/>
<rect x="1076.0" y="585.0" width="22.0" height="22.0"/>
<rect x="1086.0" y="585.0" width="22.0" height="22.0"/>
<rect x="1109.0" y="574.0" width="22.0" height="22.0"/>
<rect x="1139.0" y="574.0" width="22.0" height="22.0"/>
<rect x="1173.0" y="574.0" width="22.0" height="22.0"/>
<rect x="1203.0" y="583.0" width="22.0" height="22.0"/>
<rect x="1221.0" y="585.0" width="22.0" height="22.0"/>
<rect x="1236.0" y="591.0" width="22.0" height="22.0"/>
<rect x="1254.5" y="603.8" width="22.0" height="22.0"/>
<rect x="1274.0" y="597.0" width="22.0" height="22.0"/>
<rect x="1290.0" y="601.0" width="22.0" height="22.0"/>
<rect x="1304.0" y="578.0" width="22.0" height="22.0"/>
<rect x="1319.0" y="582.0" width="22.0" height="22.0"/>
<rect x="1339.0" y="591.0" width="22.0" height="22.0"/>
<rect x="1378.0" y="601.0" width="22.0" height="22.0"/>
<rect x="1384.0" y="578.0" width="22.0" height="22.0"/>
<rect x="1410.0" y="601.0" width="22.0" height="22.0"/>
<rect x="1429.0" y="582.0" width="22.0" height="22.0"/>
<rect x="1449.0" y="582.0" width="22.0" height="22.0"/>
<rect x="1468.0" y="597.0" width="22.0" height="22.0"/>
<rect x="1488.0" y="598.0" width="22.0" height="22.0"/>
<rect x="1482.0" y="586.0" width="22.0" height="22.0"/>
<rect x="1499.0" y="583.0" width="22.0" height="22.0"/>
<rect x="1555.0" y="584.0" width="22.0" height="22.0"/>
<rect x="1504.5" y="601.0" width="22.0" height="22.0"/>
<rect x="1519.0" y="580.0" width="22.0" height="22.0"/>
<rect x="1536.0" y="580.0" width="22.0" height="22.0"/>
<rect x="1555.4" y="595.3" width="22.0" height="22.0"/>
<rect x="1574.0" y="584.0" width="22.0" height="22.0"/>
<rect x="1594.0" y="579.0" width="22.0" height="22.0"/>
<rect x="1609.0" y="579.5" width="22.0" height="22.0"/>
<rect x="1627.0" y="589.7" width="22.0" height="22.0"/>
<rect x="1644.0" y="585.0" width="22.0" height="22.0"/>
<rect x="1659.0" y="585.0" width="22.0" height="22.0"/>
<rect x="1679.0" y="597.0" width="22.0" height="22.0"/>
<rect x="1686.0" y="595.0" width="22.0" height="22.0"/>
<rect x="1705.0" y="603.0" width="22.0" height="22.0"/>
<rect x="1726.0" y="588.0" width="22.0" height="22.0"/>
<rect x="1739.0" y="594.0" width="22.0" height="22.0"/>
<rect x="1755.0" y="594.0" width="22.0" height="22.0"/>
<rect x="1778.0" y="603.8" width="22.0" height="22.0"/>
<rect x="1801.0" y="591.8" width="22.0" height="22.0"/>
<rect x="1789.0" y="587.0" width="22.0" height="22.0"/>
<rect x="1705.0" y="585.0" width="22.0" height="22.0"/>
<rect x="1749.0" y="583.0" width="22.0" height="22.0"/>
<rect x="1801.0" y="581.0" width="22.0" height="22.0"/>
<rect x="310.3" y="631.3" width="22.0" height="22.0"/>
<rect x="334.0" y="688.4" width="22.0" height="22.0"/>
<rect x="326.4" y="702.4" width="22.0" height="22.0"/>
<rect x="505.8" y="705.7" width="22.0" height="22.0"/>
<rect x="637.6" y="665.7" width="22.0" height="22.0"/>
<rect x="657.6" y="670.7" width="22.0" height="22.0"/>
<rect x="759.3" y="735.8" width="22.0" height="22.0"/>
<rect x="342.4" y="852.5" width="22.0" height="22.0"/>
<rect x="1199.3" y="615.0" width="22.0" height="22.0"/>
<rect x="1265.5" y="735.8" width="22.0" height="22.0"/>
<rect x="1359.0" y="638.4" width="22.0" height="22.0"/>
<rect x="1402.4" y="629.7" width="22.0" height="22.0"/>
<rect x="1390.7" y="635.0" width="22.0" height="22.0"/>
<rect x="1399.1" y="663.0" width="22.0" height="22.0"/>
<rect x="1316.7" y="678.4" width="22.0" height="22.0"/>
<rect x="1484.1" y="687.4" width="22.0" height="22.0"/>
<rect x="1545.8" y="630.7" width="22.0" height="22.0"/>
<rect x="1616.9" y="636.7" width="22.0" height="22.0"/>
<rect x="1620.2" y="664.0" width="22.0" height="22.0"/>
<rect x="1726.0" y="626.4" width="22.0" height="22.0"/>
<rect x="1507.5" y="754.8" width="22.0" height="22.0"/>
<rect x="1624.9" y="793.5" width="22.0" height="22.0"/>
<rect x="1737.6" y="859.8" width="22.0" height="22.0"/>
</g>
<circle cx="1573.5" cy="651.7" r="12.2" fill="#ff0000"/>
<line x1="291" y1="496.8" x2="2241" y2="508.5" stroke="#ff0000" stroke-width="6.2"/>
<line x1="291.3" y1="643.9" x2="2240.7" y2="433.6" stroke="#0000ff" stroke-width="6"/>
<g fill="#00ff00">
<rect x="292" y="563" width="1771" height="22"/>
<path d="M281.0,585 L294.0,561 L307.0,585Z"/>
<path d="M284.9,585 L297.9,561 L310.9,585Z"/>
<path d="M288.8,585 L301.8,561 L314.8,585Z"/>
<path d="M292.7,585 L305.7,561 L318.7,585Z"/>
<path d="M296.6,585 L309.6,561 L322.6,585Z"/>
<path d="M300.5,585 L313.5,561 L326.5,585Z"/>
<path d="M304.4,585 L317.4,561 L330.4,585Z"/>
<path d="M308.3,585 L321.3,561 L334.3,585Z"/>
<path d="M312.2,585 L325.2,561 L338.2,585Z"/>
<path d="M316.1,585 L329.1,561 L342.1,585Z"/>
<path d="M320.0,585 L333.0,561 L346.0,585Z"/>
<path d="M323.9,585 L336.9,561 L349.9,585Z"/>
<path d="M327.8,585 L340.8,561 L353.8,585Z"/>
<path d="M331.7,585 L344.7,561 L357.7,585Z"/>
<path d="M335.6,585 L348.6,561 L361.6,585Z"/>
<path d="M339.5,585 L352.5,561 L365.5,585Z"/>
<path d="M343.4,585 L356.4,561 L369.4,585Z"/>
<path d="M347.3,585 L360.3,561 L373.3,585Z"/>
<path d="M351.2,585 L364.2,561 L377.2,585Z"/>
<path d="M355.1,585 L368.1,561 L381.1,585Z"/>
<path d="M359.0,585 L372.0,561 L385.0,585Z"/>
<path d="M362.9,585 L375.9,561 L388.9,585Z"/>
<path d="M366.8,585 L379.8,561 L392.8,585Z"/>
<path d="M370.7,585 L383.7,561 L396.7,585Z"/>
<path d="M374.6,585 L387.6,561 L400.6,585Z"/>
<path d="M378.5,585 L391.5,561 L404.5,585Z"/>
<path d="M382.4,585 L395.4,561 L408.4,585Z"/>
<path d="M386.3,585 L399.3,561 L412.3,585Z"/>
<path d="M390.2,585 L403.2,561 L416.2,585Z"/>
<path d="M394.1,585 L407.1,561 L420.1,585Z"/>
<path d="M398.0,585 L411.0,561 L424.0,585Z"/>
<path d="M401.9,585 L414.9,561 L427.9,585Z"/>
<path d="M405.8,585 L418.8,561 L431.8,585Z"/>
<path d="M409.7,585 L422.7,561 L435.7,585Z"/>
<path d="M413.6,585 L426.6,561 L439.6,585Z"/>
<path d="M417.5,585 L430.5,561 L443.5,585Z"/>
<path d="M421.4,585 L434.4,561 L447.4,585Z"/>
<path d="M425.3,585 L438.3,561 L451.3,585Z"/>
<path d="M429.2,585 L442.2,561 L455.2,585Z"/>
<path d="M433.1,585 L446.1,561 L459.1,585Z"/>
<path d="M437.0,585 L450.0,561 L463.0,585Z"/>
<path d="M440.9,585 L453.9,561 L466.9,585Z"/>
<path d="M444.8,585 L457.8,561 L470.8,585Z"/>
<path d="M448.7,585 L461.7,561 L474.7,585Z"/>
<path d="M452.6,585 L465.6,561 L478.6,585Z"/>
<path d="M456.5,585 L469.5,561 L482.5,585Z"/>
<path d="M460.4,585 L473.4,561 L486.4,585Z"/>
<path d="M464.3,585 L477.3,561 L490.3,585Z"/>
<path d="M468.2,585 L481.2,561 L494.2,585Z"/>
<path d="M472.1,585 L485.1,561 L498.1,585Z"/>
<path d="M476.0,585 L489.0,561 L502.0,585Z"/>
<path d="M479.9,585 L492.9,561 L505.9,585Z"/>
<path d="M483.8,585 L496.8,561 L509.8,585Z"/>
<path d="M487.7,585 L500.7,561 L513.7,585Z"/>
<path d="M491.6,585 L504.6,561 L517.6,585Z"/>
<path d="M495.5,585 L508.5,561 L521.5,585Z"/>
<path d="M499.4,585 L512.4,561 L525.4,585Z"/>
<path d="M503.3,585 L516.3,561 L529.3,585Z"/>
<path d="M507.2,585 L520.2,561 L533.2,585Z"/>
<path d="M511.1,585 L524.1,561 L537.1,585Z"/>
<path d="M515.0,585 L528.0,561 L541.0,585Z"/>
<path d="M518.9,585 L531.9,561 L544.9,585Z"/>
<path d="M522.8,585 L535.8,561 L548.8,585Z"/>
<path d="M526.7,585 L539.7,561 L552.7,585Z"/>
<path d="M530.6,585 L543.6,561 L556.6,585Z"/>
<path d="M534.5,585 L547.5,561 L560.5,585Z"/>
<path d="M538.4,585 L551.4,561 L564.4,585Z"/>
<path d="M542.3,585 L555.3,561 L568.3,585Z"/>
<path d="M546.2,585 L559.2,561 L572.2,585Z"/>
<path d="M550.1,585 L563.1,561 L576.1,585Z"/>
<path d="M554.0,585 L567.0,561 L580.0,585Z"/>
<path d="M557.9,585 L570.9,561 L583.9,585Z"/>
<path d="M561.8,585 L574.8,561 L587.8,585Z"/>
<path d="M565.7,585 L578.7,561 L591.7,585Z"/>
<path d="M569.6,585 L582.6,561 L595.6,585Z"/>
<path d="M573.5,585 L586.5,561 L599.5,585Z"/>
<path d="M577.4,585 L590.4,561 L603.4,585Z"/>
<path d="M581.3,585 L594.3,561 L607.3,585Z"/>
<path d="M585.2,585 L598.2,561 L611.2,585Z"/>
<path d="M589.1,585 L602.1,561 L615.1,585Z"/>
<path d="M593.0,585 L606.0,561 L619.0,585Z"/>
<path d="M596.9,585 L609.9,561 L622.9,585Z"/>
<path d="M600.8,585 L613.8,561 L626.8,585Z"/>
<path d="M604.7,585 L617.7,561 L630.7,585Z"/>
<path d="M608.6,585 L621.6,561 L634.6,585Z"/>
<path d="M612.5,585 L625.5,561 L638.5,585Z"/>
<path d="M616.4,585 L629.4,561 L642.4,585Z"/>
<path d="M620.3,585 L633.3,561 L646.3,585Z"/>
<path d="M624.2,585 L637.2,561 L650.2,585Z"/>
<path d="M628.1,585 L641.1,561 L654.1,585Z"/>
<path d="M632.0,585 L645.0,561 L658.0,585Z"/>
<path d="M635.9,585 L648.9,561 L661.9,585Z"/>
<path d="M639.8,585 L652.8,561 L665.8,585Z"/>
<path d="M643.7,585 L656.7,561 L669.7,585Z"/>
<path d="M647.6,585 L660.6,561 L673.6,585Z"/>
<path d="M651.5,585 L664.5,561 L677.5,585Z"/>
<path d="M655.4,585 L668.4,561 L681.4,585Z"/>
<path d="M659.3,585 L672.3,561 L685.3,585Z"/>
<path d="M663.2,585 L676.2,561 L689.2,585Z"/>
<path d="M667.1,585 L680.1,561 L693.1,585Z"/>
<path d="M671.0,585 L684.0,561 L697.0,585Z"/>
<path d="M674.9,585 L687.9,561 L700.9,585Z"/>
<path d="M678.8,585 L691.8,561 L704.8,585Z"/>
<path d="M682.7,585 L695.7,561 L708.7,585Z"/>
<path d="M686.6,585 L699.6,561 L712.6,585Z"/>
<path d="M690.5,585 L703.5,561 L716.5,585Z"/>
<path d="M694.4,585 L707.4,561 L720.4,585Z"/>
<path d="M698.3,585 L711.3,561 L724.3,585Z"/>
<path d="M702.2,585 L715.2,561 L728.2,585Z"/>
<path d="M706.1,585 L719.1,561 L732.1,585Z"/>
<path d="M710.0,585 L723.0,561 L736.0,585Z"/>
<path d="M713.9,585 L726.9,561 L739.9,585Z"/>
<path d="M717.8,585 L730.8,561 L743.8,585Z"/>
<path d="M721.7,585 L734.7,561 L747.7,585Z"/>
<path d="M725.6,585 L738.6,561 L751.6,585Z"/>
<path d="M729.5,585 L742.5,561 L755.5,585Z"/>
<path d="M733.4,585 L746.4,561 L759.4,585Z"/>
<path d="M737.3,585 L750.3,561 L763.3,585Z"/>
<path d="M741.2,585 L754.2,561 L767.2,585Z"/>
<path d="M745.1,585 L758.1,561 L771.1,585Z"/>
<path d="M749.0,585 L762.0,561 L775.0,585Z"/>
<path d="M752.9,585 L765.9,561 L778.9,585Z"/>
<path d="M756.8,585 L769.8,561 L782.8,585Z"/>
<path d="M760.7,585 L773.7,561 L786.7,585Z"/>
<path d="M764.6,585 L777.6,561 L790.6,585Z"/>
<path d="M768.5,585 L781.5,561 L794.5,585Z"/>
<path d="M772.4,585 L785.4,561 L798.4,585Z"/>
<path d="M776.3,585 L789.3,561 L802.3,585Z"/>
<path d="M780.2,585 L793.2,561 L806.2,585Z"/>
<path d="M784.1,585 L797.1,561 L810.1,585Z"/>
<path d="M788.0,585 L801.0,561 L814.0,585Z"/>
<path d="M791.9,585 L804.9,561 L817.9,585Z"/>
<path d="M795.8,585 L808.8,561 L821.8,585Z"/>
<path d="M799.7,585 L812.7,561 L825.7,585Z"/>
<path d="M803.6,585 L816.6,561 L829.6,585Z"/>
<path d="M807.5,585 L820.5,561 L833.5,585Z"/>
<path d="M811.4,585 L824.4,561 L837.4,585Z"/>
<path d="M815.3,585 L828.3,561 L841.3,585Z"/>
<path d="M819.2,585 L832.2,561 L845.2,585Z"/>
<path d="M823.1,585 L836.1,561 L849.1,585Z"/>
<path d="M827.0,585 L840.0,561 L853.0,585Z"/>
<path d="M830.9,585 L843.9,561 L856.9,585Z"/>
<path d="M834.8,585 L847.8,561 L860.8,585Z"/>
<path d="M838.7,585 L851.7,561 L864.7,585Z"/>
<path d="M842.6,585 L855.6,561 L868.6,585Z"/>
<path d="M846.5,585 L859.5,561 L872.5,585Z"/>
<path d="M850.4,585 L863.4,561 L876.4,585Z"/>
<path d="M854.3,585 L867.3,561 L880.3,585Z"/>
<path d="M858.2,585 L871.2,561 L884.2,585Z"/>
<path d="M862.1,585 L875.1,561 L888.1,585Z"/>
<path d="M866.0,585 L879.0,561 L892.0,585Z"/>
<path d="M869.9,585 L882.9,561 L895.9,585Z"/>
<path d="M873.8,585 L886.8,561 L899.8,585Z"/>
<path d="M877.7,585 L890.7,561 L903.7,585Z"/>
<path d="M881.6,585 L894.6,561 L907.6,585Z"/>
<path d="M885.5,585 L898.5,561 L911.5,585Z"/>
<path d="M889.4,585 L902.4,561 L915.4,585Z"/>
<path d="M893.3,585 L906.3,561 L919.3,585Z"/>
<path d="M897.2,585 L910.2,561 L923.2,585Z"/>
<path d="M901.1,585 L914.1,561 L927.1,585Z"/>
<path d="M905.0,585 L918.0,561 L931.0,585Z"/>
<path d="M908.9,585 L921.9,561 L934.9,585Z"/>
<path d="M912.8,585 L925.8,561 L938.8,585Z"/>
<path d="M916.7,585 L929.7,561 L942.7,585Z"/>
<path d="M920.6,585 L933.6,561 L946.6,585Z"/>
<path d="M924.5,585 L937.5,561 L950.5,585Z"/>
<path d="M928.4,585 L941.4,561 L954.4,585Z"/>
<path d="M932.3,585 L945.3,561 L958.3,585Z"/>
<path d="M936.2,585 L949.2,561 L962.2,585Z"/>
<path d="M940.1,585 L953.1,561 L966.1,585Z"/>
<path d="M944.0,585 L957.0,561 L970.0,585Z"/>
<path d="M947.9,585 L960.9,561 L973.9,585Z"/>
<path d="M951.8,585 L964.8,561 L977.8,585Z"/>
<path d="M955.7,585 L968.7,561 L981.7,585Z"/>
<path d="M959.6,585 L972.6,561 L985.6,585Z"/>
<path d="M963.5,585 L976.5,561 L989.5,585Z"/>
<path d="M967.4,585 L980.4,561 L993.4,585Z"/>
<path d="M971.3,585 L984.3,561 L997.3,585Z"/>
<path d="M975.2,585 L988.2,561 L1001.2,585Z"/>
<path d="M979.1,585 L992.1,561 L1005.1,585Z"/>
<path d="M983.0,585 L996.0,561 L1009.0,585Z"/>
<path d="M986.9,585 L999.9,561 L1012.9,585Z"/>
<path d="M990.8,585 L1003.8,561 L1016.8,585Z"/>
<path d="M994.7,585 L1007.7,561 L1020.7,585Z"/>
<path d="M998.6,585 L1011.6,561 L1024.6,585Z"/>
<path d="M1002.5,585 L1015.5,561 L1028.5,585Z"/>
<path d="M1006.4,585 L1019.4,561 L1032.4,585Z"/>
<path d="M1010.3,585 L1023.3,561 L1036.3,585Z"/>
<path d="M1014.2,585 L1027.2,561 L1040.2,585Z"/>
<path d="M1018.1,585 L1031.1,561 L1044.1,585Z"/>
<path d="M1022.0,585 L1035.0,561 L1048.0,585Z"/>
<path d="M1025.9,585 L1038.9,561 L1051.9,585Z"/>
<path d="M1029.8,585 L1042.8,561 L1055.8,585Z"/>
<path d="M1033.7,585 L1046.7,561 L1059.7,585Z"/>
<path d="M1037.6,585 L1050.6,561 L1063.6,585Z"/>
<path d="M1041.5,585 L1054.5,561 L1067.5,585Z"/>
<path d="M1045.4,585 L1058.4,561 L1071.4,585Z"/>
<path d="M1049.3,585 L1062.3,561 L1075.3,585Z"/>
<path d="M1053.2,585 L1066.2,561 L1079.2,585Z"/>
<path d="M1057.1,585 L1070.1,561 L1083.1,585Z"/>
<path d="M1061.0,585 L1074.0,561 L1087.0,585Z"/>
<path d="M1064.9,585 L1077.9,561 L1090.9,585Z"/>
<path d="M1068.8,585 L1081.8,561 L1094.8,585Z"/>
<path d="M1072.7,585 L1085.7,561 L1098.7,585Z"/>
<path d="M1076.6,585 L1089.6,561 L1102.6,585Z"/>
<path d="M1080.5,585 L1093.5,561 L1106.5,585Z"/>
<path d="M1084.4,585 L1097.4,561 L1110.4,585Z"/>
<path d="M1088.3,585 L1101.3,561 L1114.3,585Z"/>
<path d="M1092.2,585 L1105.2,561 L1118.2,585Z"/>
<path d="M1096.1,585 L1109.1,561 L1122.1,585Z"/>
<path d="M1100.0,585 L1113.0,561 L1126.0,585Z"/>
<path d="M1103.9,585 L1116.9,561 L1129.9,585Z"/>
<path d="M1107.8,585 L1120.8,561 L1133.8,585Z"/>
<path d="M1111.7,585 L1124.7,561 L1137.7,585Z"/>
<path d="M1115.6,585 L1128.6,561 L1141.6,585Z"/>
<path d="M1119.5,585 L1132.5,561 L1145.5,585Z"/>
<path d="M1123.4,585 L1136.4,561 L1149.4,585Z"/>
<path d="M1127.3,585 L1140.3,561 L1153.3,585Z"/>
<path d="M1131.2,585 L1144.2,561 L1157.2,585Z"/>
<path d="M1135.1,585 L1148.1,561 L1161.1,585Z"/>
<path d="M1139.0,585 L1152.0,561 L1165.0,585Z"/>
<path d="M1142.9,585 L1155.9,561 L1168.9,585Z"/>
<path d="M1146.8,585 L1159.8,561 L1172.8,585Z"/>
<path d="M1150.7,585 L1163.7,561 L1176.7,585Z"/>
<path d="M1154.6,585 L1167.6,561 L1180.6,585Z"/>
<path d="M1158.5,585 L1171.5,561 L1184.5,585Z"/>
<path d="M1162.4,585 L1175.4,561 L1188.4,585Z"/>
<path d="M1166.3,585 L1179.3,561 L1192.3,585Z"/>
<path d="M1170.2,585 L1183.2,561 L1196.2,585Z"/>
<path d="M1174.1,585 L1187.1,561 L1200.1,585Z"/>
<path d="M1178.0,585 L1191.0,561 L1204.0,585Z"/>
<path d="M1181.9,585 L1194.9,561 L1207.9,585Z"/>
<path d="M1185.8,585 L1198.8,561 L1211.8,585Z"/>
<path d="M1189.7,585 L1202.7,561 L1215.7,585Z"/>
<path d="M1193.6,585 L1206.6,561 L1219.6,585Z"/>
<path d="M1197.5,585 L1210.5,561 L1223.5,585Z"/>
<path d="M1201.4,585 L1214.4,561 L1227.4,585Z"/>
<path d="M1205.3,585 L1218.3,561 L1231.3,585Z"/>
<path d="M1209.2,585 L1222.2,561 L1235.2,585Z"/>
<path d="M1213.1,585 L1226.1,561 L1239.1,585Z"/>
<path d="M1217.0,585 L1230.0,561 L1243.0,585Z"/>
<path d="M1220.9,585 L1233.9,561 L1246.9,585Z"/>
<path d="M1224.8,585 L1237.8,561 L1250.8,585Z"/>
<path d="M1228.7,585 L1241.7,561 L1254.7,585Z"/>
<path d="M1232.6,585 L1245.6,561 L1258.6,585Z"/>
<path d="M1236.5,585 L1249.5,561 L1262.5,585Z"/>
<path d="M1240.4,585 L1253.4,561 L1266.4,585Z"/>
<path d="M1244.3,585 L1257.3,561 L1270.3,585Z"/>
<path d="M1248.2,585 L1261.2,561 L1274.2,585Z"/>
<path d="M1252.1,585 L1265.1,561 L1278.1,585Z"/>
<path d="M1256.0,585 L1269.0,561 L1282.0,585Z"/>
<path d="M1259.9,585 L1272.9,561 L1285.9,585Z"/>
<path d="M1263.8,585 L1276.8,561 L1289.8,585Z"/>
<path d="M1267.7,585 L1280.7,561 L1293.7,585Z"/>
<path d="M1271.6,585 L1284.6,561 L1297.6,585Z"/>
<path d="M1275.5,585 L1288.5,561 L1301.5,585Z"/>
<path d="M1279.4,585 L1292.4,561 L1305.4,585Z"/>
<path d="M1283.3,585 L1296.3,561 L1309.3,585Z"/>
<path d="M1287.2,585 L1300.2,561 L1313.2,585Z"/>
<path d="M1291.1,585 L1304.1,561 L1317.1,585Z"/>
<path d="M1295.0,585 L1308.0,561 L1321.0,585Z"/>
<path d="M1298.9,585 L1311.9,561 L1324.9,585Z"/>
<path d="M1302.8,585 L1315.8,561 L1328.8,585Z"/>
<path d="M1306.7,585 L1319.7,561 L1332.7,585Z"/>
<path d="M1310.6,585 L1323.6,561 L1336.6,585Z"/>
<path d="M1314.5,585 L1327.5,561 L1340.5,585Z"/>
<path d="M1318.4,585 L1331.4,561 L1344.4,585Z"/>
<path d="M1322.3,585 L1335.3,561 L1348.3,585Z"/>
<path d="M1326.2,585 L1339.2,561 L1352.2,585Z"/>
<path d="M1330.1,585 L1343.1,561 L1356.1,585Z"/>
<path d="M1334.0,585 L1347.0,561 L1360.0,585Z"/>
<path d="M1337.9,585 L1350.9,561 L1363.9,585Z"/>
<path d="M1341.8,585 L1354.8,561 L1367.8,585Z"/>
<path d="M1345.7,585 L1358.7,561 L1371.7,585Z"/>
<path d="M1349.6,585 L1362.6,561 L1375.6,585Z"/>
<path d="M1353.5,585 L1366.5,561 L1379.5,585Z"/>
<path d="M1357.4,585 L1370.4,561 L1383.4,585Z"/>
<path d="M1361.3,585 L1374.3,561 L1387.3,585Z"/>
<path d="M1365.2,585 L1378.2,561 L1391.2,585Z"/>
<path d="M1369.1,585 L1382.1,561 L1395.1,585Z"/>
<path d="M1373.0,585 L1386.0,561 L1399.0,585Z"/>
<path d="M1376.9,585 L1389.9,561 L1402.9,585Z"/>
<path d="M1380.8,585 L1393.8,561 L1406.8,585Z"/>
<path d="M1384.7,585 L1397.7,561 L1410.7,585Z"/>
<path d="M1388.6,585 L1401.6,561 L1414.6,585Z"/>
<path d="M1392.5,585 L1405.5,561 L1418.5,585Z"/>
<path d="M1396.4,585 L1409.4,561 L1422.4,585Z"/>
<path d="M1400.3,585 L1413.3,561 L1426.3,585Z"/>
<path d="M1404.2,585 L1417.2,561 L1430.2,585Z"/>
<path d="M1408.1,585 L1421.1,561 L1434.1,585Z"/>
<path d="M1412.0,585 L1425.0,561 L1438.0,585Z"/>
<path d="M1415.9,585 L1428.9,561 L1441.9,585Z"/>
<path d="M1419.8,585 L1432.8,561 L1445.8,585Z"/>
<path d="M1423.7,585 L1436.7,561 L1449.7,585Z"/>
<path d="M1427.6,585 L1440.6,561 L1453.6,585Z"/>
<path d="M1431.5,585 L1444.5,561 L1457.5,585Z"/>
<path d="M1435.4,585 L1448.4,561 L1461.4,585Z"/>
<path d="M1439.3,585 L1452.3,561 L1465.3,585Z"/>
<path d="M1443.2,585 L1456.2,561 L1469.2,585Z"/>
<path d="M1447.1,585 L1460.1,561 L1473.1,585Z"/>
<path d="M1451.0,585 L1464.0,561 L1477.0,585Z"/>
<path d="M1454.9,585 L1467.9,561 L1480.9,585Z"/>
<path d="M1458.8,585 L1471.8,561 L1484.8,585Z"/>
<path d="M1462.7,585 L1475.7,561 L1488.7,585Z"/>
<path d="M1466.6,585 L1479.6,561 L1492.6,585Z"/>
<path d="M1470.5,585 L1483.5,561 L1496.5,585Z"/>
<path d="M1474.4,585 L1487.4,561 L1500.4,585Z"/>
<path d="M1478.3,585 L1491.3,561 L1504.3,585Z"/>
<path d="M1482.2,585 L1495.2,561 L1508.2,585Z"/>
<path d="M1486.1,585 L1499.1,561 L1512.1,585Z"/>
<path d="M1490.0,585 L1503.0,561 L1516.0,585Z"/>
<path d="M1493.9,585 L1506.9,561 L1519.9,585Z"/>
<path d="M1497.8,585 L1510.8,561 L1523.8,585Z"/>
<path d="M1501.7,585 L1514.7,561 L1527.7,585Z"/>
<path d="M1505.6,585 L1518.6,561 L1531.6,585Z"/>
<path d="M1509.5,585 L1522.5,561 L1535.5,585Z"/>
<path d="M1513.4,585 L1526.4,561 L1539.4,585Z"/>
<path d="M1517.3,585 L1530.3,561 L1543.3,585Z"/>
<path d="M1521.2,585 L1534.2,561 L1547.2,585Z"/>
<path d="M1525.1,585 L1538.1,561 L1551.1,585Z"/>
<path d="M1529.0,585 L1542.0,561 L1555.0,585Z"/>
<path d="M1532.9,585 L1545.9,561 L1558.9,585Z"/>
<path d="M1536.8,585 L1549.8,561 L1562.8,585Z"/>
<path d="M1540.7,585 L1553.7,561 L1566.7,585Z"/>
<path d="M1544.6,585 L1557.6,561 L1570.6,585Z"/>
<path d="M1548.5,585 L1561.5,561 L1574.5,585Z"/>
<path d="M1552.4,585 L1565.4,561 L1578.4,585Z"/>
<path d="M1556.3,585 L1569.3,561 L1582.3,585Z"/>
<path d="M1560.2,585 L1573.2,561 L1586.2,585Z"/>
<path d="M1564.1,585 L1577.1,561 L1590.1,585Z"/>
<path d="M1568.0,585 L1581.0,561 L1594.0,585Z"/>
<path d="M1571.9,585 L1584.9,561 L1597.9,585Z"/>
<path d="M1575.8,585 L1588.8,561 L1601.8,585Z"/>
<path d="M1579.7,585 L1592.7,561 L1605.7,585Z"/>
<path d="M1583.6,585 L1596.6,561 L1609.6,585Z"/>
<path d="M1587.5,585 L1600.5,561 L1613.5,585Z"/>
<path d="M1591.4,585 L1604.4,561 L1617.4,585Z"/>
<path d="M1595.3,585 L1608.3,561 L1621.3,585Z"/>
<path d="M1599.2,585 L1612.2,561 L1625.2,585Z"/>
<path d="M1603.1,585 L1616.1,561 L1629.1,585Z"/>
<path d="M1607.0,585 L1620.0,561 L1633.0,585Z"/>
<path d="M1610.9,585 L1623.9,561 L1636.9,585Z"/>
<path d="M1614.8,585 L1627.8,561 L1640.8,585Z"/>
<path d="M1618.7,585 L1631.7,561 L1644.7,585Z"/>
<path d="M1622.6,585 L1635.6,561 L1648.6,585Z"/>
<path d="M1626.5,585 L1639.5,561 L1652.5,585Z"/>
<path d="M1630.4,585 L1643.4,561 L1656.4,585Z"/>
<path d="M1634.3,585 L1647.3,561 L1660.3,585Z"/>
<path d="M1638.2,585 L1651.2,561 L1664.2,585Z"/>
<path d="M1642.1,585 L1655.1,561 L1668.1,585Z"/>
<path d="M1646.0,585 L1659.0,561 L1672.0,585Z"/>
<path d="M1649.9,585 L1662.9,561 L1675.9,585Z"/>
<path d="M1653.8,585 L1666.8,561 L1679.8,585Z"/>
<path d="M1657.7,585 L1670.7,561 L1683.7,585Z"/>
<path d="M1661.6,585 L1674.6,561 L1687.6,585Z"/>
<path d="M1665.5,585 L1678.5,561 L1691.5,585Z"/>
<path d="M1669.4,585 L1682.4,561 L1695.4,585Z"/>
<path d="M1673.3,585 L1686.3,561 L1699.3,585Z"/>
<path d="M1677.2,585 L1690.2,561 L1703.2,585Z"/>
<path d="M1681.1,585 L1694.1,561 L1707.1,585Z"/>
<path d="M1685.0,585 L1698.0,561 L1711.0,585Z"/>
<path d="M1688.9,585 L1701.9,561 L1714.9,585Z"/>
<path d="M1692.8,585 L1705.8,561 L1718.8,585Z"/>
<path d="M1696.7,585 L1709.7,561 L1722.7,585Z"/>
<path d="M1700.6,585 L1713.6,561 L1726.6,585Z"/>
<path d="M1704.5,585 L1717.5,561 L1730.5,585Z"/>
<path d="M1708.4,585 L1721.4,561 L1734.4,585Z"/>
<path d="M1712.3,585 L1725.3,561 L1738.3,585Z"/>
<path d="M1716.2,585 L1729.2,561 L1742.2,585Z"/>
<path d="M1720.1,585 L1733.1,561 L1746.1,585Z"/>
<path d="M1724.0,585 L1737.0,561 L1750.0,585Z"/>
<path d="M1727.9,585 L1740.9,561 L1753.9,585Z"/>
<path d="M1731.8,585 L1744.8,561 L1757.8,585Z"/>
<path d="M1735.7,585 L1748.7,561 L1761.7,585Z"/>
<path d="M1739.6,585 L1752.6,561 L1765.6,585Z"/>
<path d="M1743.5,585 L1756.5,561 L1769.5,585Z"/>
<path d="M1747.4,585 L1760.4,561 L1773.4,585Z"/>
<path d="M1751.3,585 L1764.3,561 L1777.3,585Z"/>
<path d="M1755.2,585 L1768.2,561 L1781.2,585Z"/>
<path d="M1759.1,585 L1772.1,561 L1785.1,585Z"/>
<path d="M1763.0,585 L1776.0,561 L1789.0,585Z"/>
<path d="M1766.9,585 L1779.9,561 L1792.9,585Z"/>
<path d="M1770.8,585 L1783.8,561 L1796.8,585Z"/>
<path d="M1774.7,585 L1787.7,561 L1800.7,585Z"/>
<path d="M1778.6,585 L1791.6,561 L1804.6,585Z"/>
<path d="M1782.5,585 L1795.5,561 L1808.5,585Z"/>
<path d="M1786.4,585 L1799.4,561 L1812.4,585Z"/>
<path d="M1790.3,585 L1803.3,561 L1816.3,585Z"/>
<path d="M1794.2,585 L1807.2,561 L1820.2,585Z"/>
<path d="M1798.1,585 L1811.1,561 L1824.1,585Z"/>
<path d="M1802.0,585 L1815.0,561 L1828.0,585Z"/>
<path d="M1805.9,585 L1818.9,561 L1831.9,585Z"/>
<path d="M1809.8,585 L1822.8,561 L1835.8,585Z"/>
<path d="M1813.7,585 L1826.7,561 L1839.7,585Z"/>
<path d="M1817.6,585 L1830.6,561 L1843.6,585Z"/>
<path d="M1821.5,585 L1834.5,561 L1847.5,585Z"/>
<path d="M1825.4,585 L1838.4,561 L1851.4,585Z"/>
<path d="M1829.3,585 L1842.3,561 L1855.3,585Z"/>
<path d="M1833.2,585 L1846.2,561 L1859.2,585Z"/>
<path d="M1837.1,585 L1850.1,561 L1863.1,585Z"/>
<path d="M1841.0,585 L1854.0,561 L1867.0,585Z"/>
<path d="M1844.9,585 L1857.9,561 L1870.9,585Z"/>
<path d="M1848.8,585 L1861.8,561 L1874.8,585Z"/>
<path d="M1852.7,585 L1865.7,561 L1878.7,585Z"/>
<path d="M1856.6,585 L1869.6,561 L1882.6,585Z"/>
<path d="M1860.5,585 L1873.5,561 L1886.5,585Z"/>
<path d="M1864.4,585 L1877.4,561 L1890.4,585Z"/>
<path d="M1868.3,585 L1881.3,561 L1894.3,585Z"/>
<path d="M1872.2,585 L1885.2,561 L1898.2,585Z"/>
<path d="M1876.1,585 L1889.1,561 L1902.1,585Z"/>
<path d="M1880.0,585 L1893.0,561 L1906.0,585Z"/>
<path d="M1883.9,585 L1896.9,561 L1909.9,585Z"/>
<path d="M1887.8,585 L1900.8,561 L1913.8,585Z"/>
<path d="M1891.7,585 L1904.7,561 L1917.7,585Z"/>
<path d="M1895.6,585 L1908.6,561 L1921.6,585Z"/>
<path d="M1899.5,585 L1912.5,561 L1925.5,585Z"/>
<path d="M1903.4,585 L1916.4,561 L1929.4,585Z"/>
<path d="M1907.3,585 L1920.3,561 L1933.3,585Z"/>
<path d="M1911.2,585 L1924.2,561 L1937.2,585Z"/>
<path d="M1915.1,585 L1928.1,561 L1941.1,585Z"/>
<path d="M1919.0,585 L1932.0,561 L1945.0,585Z"/>
<path d="M1922.9,585 L1935.9,561 L1948.9,585Z"/>
<path d="M1926.8,585 L1939.8,561 L1952.8,585Z"/>
<path d="M1930.7,585 L1943.7,561 L1956.7,585Z"/>
<path d="M1934.6,585 L1947.6,561 L1960.6,585Z"/>
<path d="M1938.5,585 L1951.5,561 L1964.5,585Z"/>
<path d="M1942.4,585 L1955.4,561 L1968.4,585Z"/>
<path d="M1946.3,585 L1959.3,561 L1972.3,585Z"/>
<path d="M1950.2,585 L1963.2,561 L1976.2,585Z"/>
<path d="M1954.1,585 L1967.1,561 L1980.1,585Z"/>
<path d="M1958.0,585 L1971.0,561 L1984.0,585Z"/>
<path d="M1961.9,585 L1974.9,561 L1987.9,585Z"/>
<path d="M1965.8,585 L1978.8,561 L1991.8,585Z"/>
<path d="M1969.7,585 L1982.7,561 L1995.7,585Z"/>
<path d="M1973.6,585 L1986.6,561 L1999.6,585Z"/>
<path d="M1977.5,585 L1990.5,561 L2003.5,585Z"/>
<path d="M1981.4,585 L1994.4,561 L2007.4,585Z"/>
<path d="M1985.3,585 L1998.3,561 L2011.3,585Z"/>
<path d="M1989.2,585 L2002.2,561 L2015.2,585Z"/>
<path d="M1993.1,585 L2006.1,561 L2019.1,585Z"/>
<path d="M1997.0,585 L2010.0,561 L2023.0,585Z"/>
<path d="M2000.9,585 L2013.9,561 L2026.9,585Z"/>
<path d="M2004.8,585 L2017.8,561 L2030.8,585Z"/>
<path d="M2008.7,585 L2021.7,561 L2034.7,585Z"/>
<path d="M2012.6,585 L2025.6,561 L2038.6,585Z"/>
<path d="M2016.5,585 L2029.5,561 L2042.5,585Z"/>
<path d="M2020.4,585 L2033.4,561 L2046.4,585Z"/>
<path d="M2024.3,585 L2037.3,561 L2050.3,585Z"/>
<path d="M2028.2,585 L2041.2,561 L2054.2,585Z"/>
<path d="M2032.1,585 L2045.1,561 L2058.1,585Z"/>
<path d="M2036.0,585 L2049.0,561 L2062.0,585Z"/>
<path d="M2039.9,585 L2052.9,561 L2065.9,585Z"/>
<path d="M2043.8,585 L2056.8,561 L2069.8,585Z"/>
<path d="M2047.7,585 L2060.7,561 L2073.7,585Z"/>
<path d="M921.2,573.9 L934.2,549.9 L947.2,573.9Z"/>
</g>
<line x1="2060" y1="576.8" x2="2241" y2="576.8" stroke="#00ff00" stroke-width="6"/>
<clipPath id="bl"><rect x="800" y="555" width="300" height="35"/></clipPath>
<line clip-path="url(#bl)" x1="291.3" y1="643.9" x2="2240.7" y2="433.6" stroke="#0000ff" stroke-width="2.6"/>
</g>
<g stroke="#5c5c5c" stroke-width="5.6" fill="none">
<path d="M271,176.5 H291.2 V1000"/>
<path d="M270,978.8 H2240.8 V1000.5"/>
</g>
<g stroke="#1c1c1c" stroke-width="3.6">
<line x1="270.5" y1="175.3" x2="290" y2="175.3" stroke-width="3"/>
<line x1="280" y1="938.9" x2="291" y2="938.9"/>
<line x1="271" y1="898.8" x2="291" y2="898.8"/>
<line x1="280" y1="858.6" x2="291" y2="858.6"/>
<line x1="271" y1="818.5" x2="291" y2="818.5"/>
<line x1="280" y1="778.4" x2="291" y2="778.4"/>
<line x1="271" y1="738.2" x2="291" y2="738.2"/>
<line x1="280" y1="698.1" x2="291" y2="698.1"/>
<line x1="271" y1="658.0" x2="291" y2="658.0"/>
<line x1="280" y1="617.9" x2="291" y2="617.9"/>
<line x1="271" y1="577.8" x2="291" y2="577.8"/>
<line x1="280" y1="537.6" x2="291" y2="537.6"/>
<line x1="271" y1="497.5" x2="291" y2="497.5"/>
<line x1="280" y1="457.4" x2="291" y2="457.4"/>
<line x1="271" y1="417.2" x2="291" y2="417.2"/>
<line x1="280" y1="377.1" x2="291" y2="377.1"/>
<line x1="271" y1="337.0" x2="291" y2="337.0"/>
<line x1="280" y1="296.9" x2="291" y2="296.9"/>
<line x1="271" y1="256.8" x2="291" y2="256.8"/>
<line x1="280" y1="216.6" x2="291" y2="216.6"/>
<line x1="486.1" y1="979" x2="486.1" y2="990"/>
<line x1="681.1" y1="979" x2="681.1" y2="1000"/>
<line x1="876.0" y1="979" x2="876.0" y2="990"/>
<line x1="1071.0" y1="979" x2="1071.0" y2="1000"/>
<line x1="1266.0" y1="979" x2="1266.0" y2="990"/>
<line x1="1460.9" y1="979" x2="1460.9" y2="1000"/>
<line x1="1655.9" y1="979" x2="1655.9" y2="990"/>
<line x1="1850.8" y1="979" x2="1850.8" y2="1000"/>
<line x1="2045.8" y1="979" x2="2045.8" y2="990"/>
</g>
<g font-family="Liberation Serif, serif" font-size="70" fill="#000" stroke="#fff" stroke-width="1.8" text-anchor="end">
<text transform="translate(257.3,1000.0) scale(1,1.055)">−100</text>
<text transform="translate(257.3,919.8) scale(1,1.055)">−80</text>
<text transform="translate(257.3,839.5) scale(1,1.055)">−60</text>
<text transform="translate(257.3,759.2) scale(1,1.055)">−40</text>
<text transform="translate(257.3,679.0) scale(1,1.055)">−20</text>
<text transform="translate(257.3,598.8) scale(1,1.055)">0</text>
<text transform="translate(257.3,518.5) scale(1,1.055)">20</text>
<text transform="translate(257.3,438.2) scale(1,1.055)">40</text>
<text transform="translate(257.3,358.0) scale(1,1.055)">60</text>
<text transform="translate(257.3,277.8) scale(1,1.055)">80</text>
<text transform="translate(257.3,197.5) scale(1,1.055)">100</text>
</g>
<g font-family="Liberation Serif, serif" font-size="70" fill="#000" stroke="#fff" stroke-width="1.8" text-anchor="middle">
<text transform="translate(291.2,1072) scale(1,1.055)">0</text>
<text transform="translate(681.1,1072) scale(1,1.055)">100</text>
<text transform="translate(1071.0,1072) scale(1,1.055)">200</text>
<text transform="translate(1460.9,1072) scale(1,1.055)">300</text>
<text transform="translate(1850.8,1072) scale(1,1.055)">400</text>
<text transform="translate(2240.7,1072) scale(1,1.055)">500</text>
</g>
<text font-family="Liberation Serif, serif" font-size="62.3" fill="#000" stroke="#fff" stroke-width="1.1" x="1089.6" y="1166.9">Serial number</text>
<text font-family="Liberation Serif, serif" font-size="64" fill="#000" stroke="#fff" stroke-width="1.5" transform="translate(71.8,821.5) rotate(-90)" x="0" y="0"><tspan font-style="italic">a</tspan><tspan dy="18.7">ph</tspan><tspan dy="-18.7">490/</tspan><tspan font-style="italic">a</tspan><tspan dy="18.7">ph</tspan><tspan dy="-18.7">660</tspan></text>
<circle cx="384.6" cy="41.1" r="18.3" fill="#ff0000"/>
<rect x="712.2" y="24.3" width="32.8" height="33.3" fill="#0000ff"/>
<path d="M1375.2,55.7 L1396.9,17.3 L1418.5,55.7Z" fill="#00ff00"/>
<g font-family="Liberation Serif, serif" font-size="62.3" fill="#000" stroke="#fff" stroke-width="1.1">
<text x="470.7" y="63.9">red tide</text>
<text x="812.8" y="63.9">non-red tide onshore</text>
<text x="1483.5" y="63.9">non-red tide offshore</text>
<text x="470.7" y="142.4">red tide</text>
<text x="812.8" y="142.4">non-red tide onshore</text>
<text x="1483.5" y="142.4">non-red tide offshore</text>
</g>
<line x1="310.6" y1="120.8" x2="458.8" y2="120.8" stroke="#ff0000" stroke-width="6.5"/>
<line x1="654.4" y1="120.8" x2="802" y2="120.8" stroke="#0000ff" stroke-width="6.5"/>
<line x1="1324" y1="121" x2="1471" y2="121" stroke="#00ff00" stroke-width="6.5"/>
</svg></body></html>
